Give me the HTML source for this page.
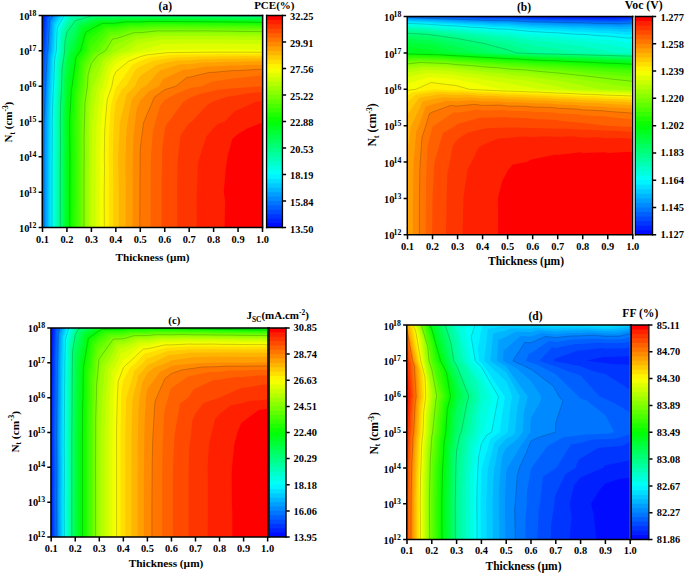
<!DOCTYPE html>
<html><head><meta charset="utf-8"><title>Contour plots</title>
<style>html,body{margin:0;padding:0;background:#fff}svg{display:block}
text{font-family:"Liberation Serif",serif;font-weight:bold;font-size:10.4px;fill:#000}</style></head>
<body><svg width="685" height="575" viewBox="0 0 685 575">
<rect width="685" height="575" fill="#fff"/>
<rect x="42.5" y="15.5" width="220.5" height="212.0" fill="#000bff"/>
<path d="M42.5 121.5L42.5 156.8L42.5 192.2L42.5 227.5L66.9 227.5L91.4 227.5L115.8 227.5L140.3 227.5L164.7 227.5L189.2 227.5L213.6 227.5L238.1 227.5L262.5 227.5L262.5 192.2L262.5 156.8L262.5 121.5L262.5 86.2L262.5 50.8L262.5 15.5L238.1 15.5L213.6 15.5L189.2 15.5L164.7 15.5L140.3 15.5L115.8 15.5L91.4 15.5L66.9 15.5L43.8 15.5L43.4 16L42.5 21.9L42.5 50.8L42.5 86.2Z" fill="#0020ff" fill-rule="evenodd"/>
<path d="M42.5 121.5L42.5 156.8L42.5 192.2L42.5 227.5L66.9 227.5L91.4 227.5L115.8 227.5L140.3 227.5L164.7 227.5L189.2 227.5L213.6 227.5L238.1 227.5L262.5 227.5L262.5 192.2L262.5 156.8L262.5 121.5L262.5 86.2L262.5 50.8L262.5 15.5L238.1 15.5L213.6 15.5L189.2 15.5L164.7 15.5L140.3 15.5L115.8 15.5L91.4 15.5L66.9 15.5L45.7 15.5L44.7 16.8L42.5 41.6L42.5 50.8L42.5 86.2Z" fill="#0035ff" fill-rule="evenodd"/>
<path d="M43.5 51.4L42.5 61.8L42.5 86.2L42.5 121.5L42.5 156.8L42.5 192.2L42.5 227.5L66.9 227.5L91.4 227.5L115.8 227.5L140.3 227.5L164.7 227.5L189.2 227.5L213.6 227.5L238.1 227.5L262.5 227.5L262.5 192.2L262.5 156.8L262.5 121.5L262.5 86.2L262.5 50.8L262.5 15.5L238.1 15.5L213.6 15.5L189.2 15.5L164.7 15.5L140.3 15.5L115.8 15.5L91.4 15.5L66.9 15.5L47.6 15.5L45.9 17.6L43.7 50.8Z" fill="#004aff" fill-rule="evenodd"/>
<path d="M44.8 52.2L43 86.2L43 86.4L42.5 91.4L42.5 121.5L42.5 156.8L42.5 192.2L42.5 227.5L66.9 227.5L91.4 227.5L115.8 227.5L140.3 227.5L164.7 227.5L189.2 227.5L213.6 227.5L238.1 227.5L262.5 227.5L262.5 192.2L262.5 156.8L262.5 121.5L262.5 86.2L262.5 50.8L262.5 15.5L238.1 15.5L213.6 15.5L189.2 15.5L164.7 15.5L140.3 15.5L115.8 15.5L91.4 15.5L66.9 15.5L49.4 15.5L47.2 18.4L45.1 50.8Z" fill="#0060ff" fill-rule="evenodd"/>
<path d="M46 52.9L44.3 86.2L44.2 87.2L42.8 121.5L42.8 121.7L42.5 146L42.5 156.8L42.5 192.2L42.5 214.5L42.5 227.5L66.9 227.5L91.4 227.5L115.8 227.5L140.3 227.5L164.7 227.5L189.2 227.5L213.6 227.5L238.1 227.5L262.5 227.5L262.5 192.2L262.5 156.8L262.5 121.5L262.5 86.2L262.5 50.8L262.5 15.5L238.1 15.5L213.6 15.5L189.2 15.5L164.7 15.5L140.3 15.5L115.8 15.5L91.4 15.5L66.9 15.5L51.3 15.5L48.5 19.3L46.5 50.8Z" fill="#0075ff" fill-rule="evenodd"/>
<path d="M47.2 53.8L45.6 86.2L45.5 88L44.1 121.5L44.1 122.5L43.8 156.8L43.8 157.6L43.8 192.2L43.8 192.9L43.9 227.5L66.9 227.5L91.4 227.5L115.8 227.5L140.3 227.5L164.7 227.5L189.2 227.5L213.6 227.5L238.1 227.5L262.5 227.5L262.5 192.2L262.5 156.8L262.5 121.5L262.5 86.2L262.5 50.8L262.5 15.5L238.1 15.5L213.6 15.5L189.2 15.5L164.7 15.5L140.3 15.5L115.8 15.5L91.4 15.5L66.9 15.5L53.2 15.5L49.7 20.3L47.9 50.8Z" fill="#008aff" fill-rule="evenodd"/>
<path d="M48.4 54.6L47 86.2L46.8 88.8L45.5 121.5L45.5 123.3L45.2 156.8L45.2 158.4L45.2 192.2L45.2 193.8L45.2 227.5L66.9 227.5L91.4 227.5L115.8 227.5L140.3 227.5L164.7 227.5L189.2 227.5L213.6 227.5L238.1 227.5L262.5 227.5L262.5 192.2L262.5 156.8L262.5 121.5L262.5 86.2L262.5 50.8L262.5 15.5L238.1 15.5L213.6 15.5L189.2 15.5L164.7 15.5L140.3 15.5L115.8 15.5L91.4 15.5L66.9 15.5L55 15.5L51 21.3L49.3 50.8Z" fill="#009fff" fill-rule="evenodd"/>
<path d="M49.7 55.5L48.3 86.2L48 89.7L46.8 121.5L46.9 124.2L46.6 156.8L46.6 159.3L46.6 192.2L46.5 194.6L46.6 227.5L66.9 227.5L91.4 227.5L115.8 227.5L140.3 227.5L164.7 227.5L189.2 227.5L213.6 227.5L238.1 227.5L262.5 227.5L262.5 192.2L262.5 156.8L262.5 121.5L262.5 86.2L262.5 50.8L262.5 15.5L238.1 15.5L213.6 15.5L189.2 15.5L164.7 15.5L140.3 15.5L115.8 15.5L91.4 15.5L66.9 15.5L56.9 15.5L52.3 22.3L50.7 50.8Z" fill="#00b5ff" fill-rule="evenodd"/>
<path d="M50.9 56.5L49.6 86.2L49.3 90.6L48.2 121.5L48.2 125.1L48 156.8L48 160.3L47.9 192.2L47.9 195.6L48 227.5L66.9 227.5L91.4 227.5L115.8 227.5L140.3 227.5L164.7 227.5L189.2 227.5L213.6 227.5L238.1 227.5L262.5 227.5L262.5 192.2L262.5 156.8L262.5 121.5L262.5 86.2L262.5 50.8L262.5 15.5L238.1 15.5L213.6 15.5L189.2 15.5L164.7 15.5L140.3 15.5L115.8 15.5L91.4 15.5L66.9 15.5L58.8 15.5L53.5 23.5L52.1 50.8Z" fill="#00caff" fill-rule="evenodd"/>
<path d="M52.1 57.5L51 86.2L50.6 91.6L49.5 121.5L49.6 126.1L49.4 156.8L49.3 161.3L49.3 192.2L49.3 196.6L49.4 227.5L66.9 227.5L91.4 227.5L115.8 227.5L140.3 227.5L164.7 227.5L189.2 227.5L213.6 227.5L238.1 227.5L262.5 227.5L262.5 192.2L262.5 156.8L262.5 121.5L262.5 86.2L262.5 50.8L262.5 15.5L238.1 15.5L213.6 15.5L189.2 15.5L164.7 15.5L140.3 15.5L115.8 15.5L91.4 15.5L66.9 15.5L60.6 15.5L54.8 24.8L53.5 50.8Z" fill="#00dfff" fill-rule="evenodd"/>
<path d="M53.4 58.7L52.3 86.2L51.8 92.6L50.9 121.5L51 127.2L50.7 156.8L50.7 162.4L50.7 192.2L50.7 197.7L50.7 227.5L66.9 227.5L91.4 227.5L115.8 227.5L140.3 227.5L164.7 227.5L189.2 227.5L213.6 227.5L238.1 227.5L262.5 227.5L262.5 192.2L262.5 156.8L262.5 121.5L262.5 86.2L262.5 50.8L262.5 15.5L238.1 15.5L213.6 15.5L189.2 15.5L164.7 15.5L140.3 15.5L115.8 15.5L91.4 15.5L66.9 15.5L62.5 15.5L56.1 26.1L54.9 50.8Z" fill="#00f4ff" fill-rule="evenodd"/>
<path d="M54.6 59.9L53.6 86.2L53.1 93.8L52.2 121.5L52.3 128.4L52.1 156.8L52.1 163.5L52.1 192.2L52 198.8L52.1 227.5L66.9 227.5L91.4 227.5L115.8 227.5L140.3 227.5L164.7 227.5L189.2 227.5L213.6 227.5L238.1 227.5L262.5 227.5L262.5 192.2L262.5 156.8L262.5 121.5L262.5 86.2L262.5 50.8L262.5 15.5L238.1 15.5L213.6 15.5L189.2 15.5L164.7 15.5L140.3 15.5L115.8 15.5L91.4 15.5L66.9 15.5L64.4 15.5L57.3 27.6L56.3 50.8Z" fill="#00fff4" fill-rule="evenodd"/>
<path d="M55.8 61.2L54.9 86.2L54.4 95L53.5 121.5L53.7 129.6L53.5 156.8L53.5 164.8L53.4 192.2L53.4 200.1L53.5 227.5L66.9 227.5L91.4 227.5L115.8 227.5L140.3 227.5L164.7 227.5L189.2 227.5L213.6 227.5L238.1 227.5L262.5 227.5L262.5 192.2L262.5 156.8L262.5 121.5L262.5 86.2L262.5 50.8L262.5 15.5L238.1 15.5L213.6 15.5L189.2 15.5L164.7 15.5L140.3 15.5L115.8 15.5L91.4 15.5L66.9 15.5L66.2 15.5L58.6 29.3L57.7 50.8Z" fill="#00ffdf" fill-rule="evenodd"/>
<path d="M59.1 50.8L57 62.6L56.3 86.2L55.6 96.3L54.9 121.5L55 131L54.9 156.8L54.8 166.1L54.8 192.2L54.8 201.4L54.8 227.5L66.9 227.5L91.4 227.5L115.8 227.5L140.3 227.5L164.7 227.5L189.2 227.5L213.6 227.5L238.1 227.5L262.5 227.5L262.5 192.2L262.5 156.8L262.5 121.5L262.5 86.2L262.5 50.8L262.5 15.5L238.1 15.5L213.6 15.5L189.2 15.5L164.7 15.5L140.3 15.5L115.8 15.5L91.4 15.5L70.5 15.5L68 16.1L66.9 16.9L59.9 31.1Z" fill="#00ffca" fill-rule="evenodd"/>
<path d="M60.5 50.8L58.3 64.2L57.6 86.2L56.9 97.8L56.2 121.5L56.4 132.5L56.3 156.8L56.2 167.6L56.2 192.2L56.1 202.9L56.2 227.5L66.9 227.5L91.4 227.5L115.8 227.5L140.3 227.5L164.7 227.5L189.2 227.5L213.6 227.5L238.1 227.5L262.5 227.5L262.5 192.2L262.5 156.8L262.5 121.5L262.5 86.2L262.5 50.8L262.5 15.5L238.1 15.5L213.6 15.5L189.2 15.5L164.7 15.5L140.3 15.5L115.8 15.5L91.4 15.5L76.2 15.5L69.8 17.2L66.9 19.6L61.1 33.3Z" fill="#00ffb5" fill-rule="evenodd"/>
<path d="M61.9 50.8L59.5 65.9L58.9 86.2L58.2 99.3L57.6 121.5L57.8 134.2L57.6 156.8L57.6 169.3L57.6 192.2L57.5 204.5L57.6 227.5L66.9 227.5L91.4 227.5L115.8 227.5L140.3 227.5L164.7 227.5L189.2 227.5L213.6 227.5L238.1 227.5L262.5 227.5L262.5 192.2L262.5 156.8L262.5 121.5L262.5 86.2L262.5 50.8L262.5 15.5L238.1 15.5L213.6 15.5L189.2 15.5L164.7 15.5L140.3 15.5L115.8 15.5L91.4 15.5L82 15.5L71.5 18.3L66.9 22.8L62.4 35.7Z" fill="#00ff9f" fill-rule="evenodd"/>
<path d="M66.9 26.9L63.7 38.7L63.3 50.8L60.7 67.9L60.2 86.2L59.4 101.1L58.9 121.5L59.1 136L59 156.8L59 171.1L59 192.2L58.9 206.4L58.9 227.5L66.9 227.5L91.4 227.5L115.8 227.5L140.3 227.5L164.7 227.5L189.2 227.5L213.6 227.5L238.1 227.5L262.5 227.5L262.5 192.2L262.5 156.8L262.5 121.5L262.5 86.2L262.5 50.8L262.5 15.8L238.2 15.6L238.1 15.6L231.1 15.5L213.6 15.5L189.2 15.5L164.7 15.5L140.3 15.5L115.8 15.5L91.4 15.5L87.7 15.5L73.2 19.5Z" fill="#00ff8a" fill-rule="evenodd"/>
<path d="M62 70.2L61.6 86.2L60.7 103.2L60.3 121.5L60.5 138.2L60.4 156.8L60.3 173.2L60.3 192.2L60.3 208.5L60.3 227.5L66.9 227.5L91.4 227.5L115.8 227.5L140.3 227.5L164.7 227.5L189.2 227.5L213.6 227.5L238.1 227.5L262.5 227.5L262.5 192.2L262.5 156.8L262.5 121.5L262.5 86.2L262.5 50.8L262.5 16.6L239.5 16.4L238.1 16.4L214.7 16.1L213.6 16.1L189.8 15.9L189.2 15.9L165.1 15.7L164.7 15.7L140.5 15.6L140.3 15.6L116.1 15.7L115.8 15.7L92 15.8L91.4 16L75 20.9L66.9 32.5L64.9 42.3L64.7 50.8Z" fill="#00ff75" fill-rule="evenodd"/>
<path d="M63.2 72.9L62.9 86.2L62 105.5L61.6 121.5L61.9 140.6L61.8 156.8L61.7 175.7L61.7 192.2L61.6 210.9L61.7 227.5L66.9 227.5L91.4 227.5L115.8 227.5L140.3 227.5L164.7 227.5L189.2 227.5L213.6 227.5L238.1 227.5L262.5 227.5L262.5 192.2L262.5 156.8L262.5 121.5L262.5 86.2L262.5 50.8L262.5 17.4L240.9 17.2L238.1 17.2L216 16.9L213.6 16.9L191.2 16.7L189.2 16.7L166.5 16.5L164.7 16.5L141.9 16.4L140.3 16.5L117.6 16.5L115.8 16.7L93.7 16.9L91.4 17.5L76.7 22.3L66.9 41.3L66.2 47.1L66.1 50.8Z" fill="#00ff60" fill-rule="evenodd"/>
<path d="M67.8 51.3L66.9 53.3L64.4 76.1L64.2 86.2L63.2 108.2L63 121.5L63.2 143.6L63.2 156.8L63.1 178.6L63.1 192.2L63 213.8L63 227.5L66.9 227.5L91.4 227.5L115.8 227.5L140.3 227.5L164.7 227.5L189.2 227.5L213.6 227.5L238.1 227.5L262.5 227.5L262.5 192.2L262.5 156.8L262.5 121.5L262.5 86.2L262.5 50.8L262.5 18.3L242.2 18.1L238.1 18L217.4 17.8L213.6 17.8L192.6 17.6L189.2 17.6L167.9 17.4L164.7 17.4L143.3 17.3L140.3 17.4L119.1 17.5L115.8 17.8L95.5 18L91.4 19.2L78.4 23.9L68.2 50.8Z" fill="#00ff4a" fill-rule="evenodd"/>
<path d="M69.8 52.5L66.9 62L65.7 80.2L65.6 86.2L64.5 111.6L64.3 121.5L64.6 147.2L64.5 156.8L64.5 182.2L64.5 192.2L64.4 217.3L64.4 227.5L66.9 227.5L91.4 227.5L115.8 227.5L140.3 227.5L164.7 227.5L189.2 227.5L213.6 227.5L238.1 227.5L262.5 227.5L262.5 192.2L262.5 156.8L262.5 121.5L262.5 86.2L262.5 50.8L262.5 19.2L243.6 19L238.1 18.9L218.8 18.7L213.6 18.7L194 18.5L189.2 18.5L169.3 18.3L164.7 18.3L144.7 18.2L140.3 18.4L120.6 18.5L115.8 19L97.2 19.2L91.4 21.1L80.2 25.7L71.3 50.8Z" fill="#00ff35" fill-rule="evenodd"/>
<path d="M71.9 53.9L66.9 84.1L66.9 85.9L66.9 86.2L65.8 115.9L65.7 121.5L65.9 152L65.9 156.8L65.8 186.9L65.8 192.2L65.8 221.9L65.8 227.5L66.9 227.5L91.4 227.5L115.8 227.5L140.3 227.5L164.7 227.5L189.2 227.5L213.6 227.5L238.1 227.5L262.5 227.5L262.5 192.2L262.5 156.8L262.5 121.5L262.5 86.2L262.5 50.8L262.5 20.2L244.9 20L238.1 19.9L220.1 19.7L213.6 19.7L195.4 19.5L189.2 19.5L170.7 19.3L164.7 19.3L146.1 19.2L140.3 19.5L122.1 19.5L115.8 20.3L98.9 20.5L91.4 23.3L81.9 27.8L74.4 50.8Z" fill="#00ff20" fill-rule="evenodd"/>
<path d="M73.9 55.4L69.4 86.2L69.1 87.5L67.1 121.5L67.1 121.6L67.6 156.8L67.6 157.2L67.4 192.2L67.4 192.4L67.3 227.5L91.4 227.5L115.8 227.5L140.3 227.5L164.7 227.5L189.2 227.5L213.6 227.5L238.1 227.5L262.5 227.5L262.5 192.2L262.5 156.8L262.5 121.5L262.5 86.2L262.5 50.8L262.5 21.2L246.2 21L238.1 21L221.5 20.8L213.6 20.7L196.8 20.5L189.2 20.5L172.1 20.4L164.7 20.4L147.6 20.3L140.3 20.6L123.6 20.7L115.8 21.7L100.6 21.9L91.4 25.9L83.6 30.1L77.5 50.8Z" fill="#00ff0b" fill-rule="evenodd"/>
<path d="M76 57L72 86.2L71.4 88.9L69.6 121.5L69.5 123L70 156.8L69.9 158.6L69.8 192.2L69.8 193.9L69.7 227.5L91.4 227.5L115.8 227.5L140.3 227.5L164.7 227.5L189.2 227.5L213.6 227.5L238.1 227.5L262.5 227.5L262.5 192.2L262.5 156.8L262.5 121.5L262.5 86.2L262.5 50.8L262.5 22.4L247.6 22.1L238.1 22.1L222.8 21.9L213.6 21.9L198.1 21.6L189.2 21.7L173.5 21.5L164.7 21.5L149 21.4L140.3 21.9L125.1 21.9L115.8 23.2L102.3 23.4L91.4 28.9L85.4 32.9L80.6 50.8Z" fill="#0bff00" fill-rule="evenodd"/>
<path d="M78 58.9L74.5 86.2L73.7 90.5L72 121.5L72 124.6L72.3 156.8L72.3 160.2L72.1 192.2L72.2 195.4L72 227.5L91.4 227.5L115.8 227.5L140.3 227.5L164.7 227.5L189.2 227.5L213.6 227.5L238.1 227.5L262.5 227.5L262.5 192.2L262.5 156.8L262.5 121.5L262.5 86.2L262.5 50.8L262.5 23.6L248.9 23.4L238.1 23.3L224.2 23.1L213.6 23.1L199.5 22.9L189.2 22.9L174.9 22.7L164.7 22.8L150.4 22.6L140.3 23.2L126.6 23.3L115.8 25L104 25.1L91.4 32.7L87.1 36.3L83.7 50.8Z" fill="#20ff00" fill-rule="evenodd"/>
<path d="M80 60.9L77.1 86.2L76 92.3L74.5 121.5L74.4 126.4L74.7 156.8L74.6 161.9L74.5 192.2L74.5 197.2L74.4 227.5L91.4 227.5L115.8 227.5L140.3 227.5L164.7 227.5L189.2 227.5L213.6 227.5L238.1 227.5L262.5 227.5L262.5 192.2L262.5 156.8L262.5 121.5L262.5 86.2L262.5 50.8L262.5 24.9L250.3 24.7L238.1 24.6L225.6 24.4L213.6 24.4L200.9 24.2L189.2 24.2L176.3 24L164.7 24.1L151.8 24L140.3 24.7L128.1 24.8L115.8 26.9L105.8 27.1L91.4 37.8L88.8 40.7L86.8 50.8Z" fill="#35ff00" fill-rule="evenodd"/>
<path d="M82.1 63.3L79.7 86.2L78.2 94.4L77 121.5L76.8 128.4L77.1 156.8L77 163.9L76.9 192.2L76.9 199.2L76.8 227.5L91.4 227.5L115.8 227.5L140.3 227.5L164.7 227.5L189.2 227.5L213.6 227.5L238.1 227.5L262.5 227.5L262.5 192.2L262.5 156.8L262.5 121.5L262.5 86.2L262.5 50.8L262.5 26.3L251.6 26.1L238.1 26.1L226.9 25.8L213.6 25.8L202.3 25.6L189.2 25.6L177.7 25.5L164.7 25.5L153.2 25.4L140.3 26.4L129.6 26.4L115.8 29.1L107.5 29.3L91.4 45.4L90.6 46.8L89.9 50.8Z" fill="#4aff00" fill-rule="evenodd"/>
<path d="M84.1 66.2L82.3 86.2L80.5 96.8L79.5 121.5L79.2 130.8L79.5 156.8L79.3 166.2L79.2 192.2L79.3 201.5L79.2 227.5L91.4 227.5L115.8 227.5L140.3 227.5L164.7 227.5L189.2 227.5L213.6 227.5L238.1 227.5L262.5 227.5L262.5 192.2L262.5 156.8L262.5 121.5L262.5 86.2L262.5 50.8L262.5 27.9L253 27.7L238.1 27.6L228.3 27.4L213.6 27.4L203.7 27.2L189.2 27.2L179.1 27.1L164.7 27.2L154.7 27.1L140.3 28.2L131.1 28.2L115.8 31.8L109.2 31.9L94.4 50.8L92.8 51.6L91.4 52.8Z" fill="#60ff00" fill-rule="evenodd"/>
<path d="M86.2 69.7L84.8 86.2L82.8 99.6L82 121.5L81.7 133.5L81.9 156.8L81.7 168.8L81.6 192.2L81.7 204.1L81.6 227.5L91.4 227.5L115.8 227.5L140.3 227.5L164.7 227.5L189.2 227.5L213.6 227.5L238.1 227.5L262.5 227.5L262.5 192.2L262.5 156.8L262.5 121.5L262.5 86.2L262.5 50.8L262.5 29.7L254.3 29.5L238.1 29.4L229.7 29.2L213.6 29.1L205 29L189.2 29L180.5 28.9L164.7 29L156.1 28.9L140.3 30.3L132.6 30.3L115.8 34.9L110.9 35L100 50.8L95.4 53.3L91.4 57.2Z" fill="#75ff00" fill-rule="evenodd"/>
<path d="M88.2 74.3L87.4 86.2L85 103L84.5 121.5L84.1 136.8L84.2 156.8L84 172.1L84 192.2L84 207.4L84 227.5L91.4 227.5L115.8 227.5L140.3 227.5L164.7 227.5L189.2 227.5L213.6 227.5L238.1 227.5L262.5 227.5L262.5 192.2L262.5 156.8L262.5 121.5L262.5 86.2L262.5 50.8L262.5 31.7L255.7 31.5L238.1 31.4L231 31.2L213.6 31.1L206.4 30.9L189.2 31L181.9 30.9L164.7 31L157.5 30.9L140.3 32.7L134.1 32.7L115.8 38.8L112.7 38.9L105.5 50.8L98 55.1L91.4 63.4Z" fill="#8aff00" fill-rule="evenodd"/>
<path d="M90.3 80.8L90 86.2L87.3 107.5L87 121.5L86.5 141.1L86.6 156.8L86.4 176.1L86.3 192.2L86.4 211.5L86.4 227.5L91.4 227.5L115.8 227.5L140.3 227.5L164.7 227.5L189.2 227.5L213.6 227.5L238.1 227.5L262.5 227.5L262.5 192.2L262.5 156.8L262.5 121.5L262.5 86.2L262.5 50.8L262.5 34L257 33.9L238.1 33.7L232.4 33.5L213.6 33.4L207.8 33.2L189.2 33.4L183.3 33.2L164.7 33.4L158.9 33.3L140.3 35.5L135.7 35.6L115.8 44.2L114.4 44.2L111.1 50.8L100.6 57.2L91.4 73.9Z" fill="#9fff00" fill-rule="evenodd"/>
<path d="M103.2 59.6L93.4 86.2L93 87.1L91.4 92.2L89.6 113.7L89.4 121.5L89 147.1L89 156.8L88.7 181.7L88.7 192.2L88.8 217.2L88.8 227.5L91.4 227.5L115.8 227.5L140.3 227.5L164.7 227.5L189.2 227.5L213.6 227.5L238.1 227.5L262.5 227.5L262.5 192.2L262.5 156.8L262.5 121.5L262.5 86.2L262.5 50.8L262.5 36.8L258.4 36.6L238.1 36.4L233.7 36.2L213.6 36.1L209.2 36L189.2 36.1L184.7 36L164.7 36.1L160.3 36.1L140.3 39L137.2 39.1L117.5 50.8L116.3 51.1L115.8 51.2Z" fill="#b5ff00" fill-rule="evenodd"/>
<path d="M105.8 62.4L98 86.2L96.5 89.4L92.3 121.5L92.3 122L91.4 156.8L91.4 156.8L91.4 157.6L91.1 190.6L91.1 192.2L91.2 226.3L91.2 227.5L91.4 227.5L115.8 227.5L140.3 227.5L164.7 227.5L189.2 227.5L213.6 227.5L238.1 227.5L262.5 227.5L262.5 192.2L262.5 156.8L262.5 121.5L262.5 86.2L262.5 50.8L262.5 40.1L259.7 40L238.1 39.7L235.1 39.5L213.6 39.4L210.6 39.2L189.2 39.4L186.1 39.3L164.7 39.5L161.8 39.5L140.3 43.6L138.7 43.6L128.4 50.8L119.5 53L115.8 54.4Z" fill="#caff00" fill-rule="evenodd"/>
<path d="M108.4 65.9L102.6 86.2L100.1 92.1L96.7 121.5L96.4 124.6L95.7 156.8L95.8 159.5L95.3 192.2L95.3 194.6L95.4 227.5L115.8 227.5L140.3 227.5L164.7 227.5L189.2 227.5L213.6 227.5L238.1 227.5L262.5 227.5L262.5 192.2L262.5 156.8L262.5 121.5L262.5 86.2L262.5 50.8L262.5 44.4L261.1 44.3L238.1 43.9L236.5 43.8L213.6 43.5L211.9 43.4L189.2 43.6L187.5 43.6L164.7 43.9L163.2 43.9L140.3 50.2L140.2 50.2L139.4 50.8L122.6 55.2L115.8 58.3Z" fill="#dfff00" fill-rule="evenodd"/>
<path d="M103.7 95.4L101 121.5L100.6 127.8L100 156.8L100.2 162.8L99.8 192.2L99.8 197.8L99.9 227.5L115.8 227.5L140.3 227.5L164.7 227.5L189.2 227.5L213.6 227.5L238.1 227.5L262.5 227.5L262.5 192.2L262.5 156.8L262.5 121.5L262.5 86.2L262.5 50.8L262.5 50.2L262.4 50.2L238.1 49.6L237.8 49.6L213.6 49.2L213.3 49.2L189.2 49.5L188.9 49.5L164.7 50.1L164.6 50.1L162.4 50.8L143.3 52.7L140.3 53.3L125.8 57.8L115.8 63.6L111 70.4L107.2 86.2Z" fill="#f4ff00" fill-rule="evenodd"/>
<path d="M113.6 76.9L111.8 86.2L107.2 99.6L105.3 121.5L104.7 131.8L104.3 156.8L104.5 167L104.2 192.2L104.2 202L104.3 227.5L115.8 227.5L140.3 227.5L164.7 227.5L189.2 227.5L213.6 227.5L238.1 227.5L262.5 227.5L262.5 192.2L262.5 156.8L262.5 121.5L262.5 86.2L262.5 52.3L240.4 52.2L238.1 52.2L215.9 52.2L213.6 52.2L191.7 52.3L189.2 52.4L167.7 52.6L164.7 52.9L146.6 54.9L140.3 56.6L128.9 61L115.8 71.8Z" fill="#fff400" fill-rule="evenodd"/>
<path d="M116.5 86.6L115.8 87.4L110.8 105.4L109.7 121.5L108.9 137.3L108.6 156.8L108.9 172.7L108.7 192.2L108.7 207.8L108.8 227.5L115.8 227.5L140.3 227.5L164.7 227.5L189.2 227.5L213.6 227.5L238.1 227.5L262.5 227.5L262.5 192.2L262.5 156.8L262.5 121.5L262.5 86.2L262.5 54.2L243.2 54L238.1 54.1L218.8 54.1L213.6 54.2L194.7 54.3L189.2 54.6L170.9 54.8L164.7 55.6L149.9 57.6L140.3 60.8L132.1 64.9L117 86.2Z" fill="#ffdf00" fill-rule="evenodd"/>
<path d="M121.6 89.8L115.8 102.6L114.3 114.8L114 121.5L113 145.9L112.9 156.8L113.3 181.9L113.2 192.2L113.2 217.1L113.2 227.5L115.8 227.5L140.3 227.5L164.7 227.5L189.2 227.5L213.6 227.5L238.1 227.5L262.5 227.5L262.5 192.2L262.5 156.8L262.5 121.5L262.5 86.2L262.5 56.2L245.9 56.1L238.1 56.3L221.7 56.2L213.6 56.5L197.6 56.6L189.2 57.2L174.1 57.4L164.7 59L153.3 60.8L140.3 66.5L135.3 70.1L126 86.2Z" fill="#ffca00" fill-rule="evenodd"/>
<path d="M135 86.2L126.7 94L120.2 121.5L119.8 123.9L118.2 156.8L118.1 158.2L118.7 192.2L118.7 193.9L118.7 227.5L140.3 227.5L164.7 227.5L189.2 227.5L213.6 227.5L238.1 227.5L262.5 227.5L262.5 192.2L262.5 156.8L262.5 121.5L262.5 86.2L262.5 58.6L248.7 58.5L238.1 58.8L224.6 58.7L213.6 59.2L200.6 59.3L189.2 60.3L177.4 60.4L164.7 63.1L156.6 64.9L140.3 75.9L138.4 78.2Z" fill="#ffb500" fill-rule="evenodd"/>
<path d="M145.7 86.2L142.7 87.6L140.3 89.2L131.8 99.7L127.7 121.5L126.5 129.2L125.5 156.8L125.4 163.5L125.8 192.2L125.7 199.1L125.7 227.5L140.3 227.5L164.7 227.5L189.2 227.5L213.6 227.5L238.1 227.5L262.5 227.5L262.5 192.2L262.5 156.8L262.5 121.5L262.5 86.2L262.5 61.4L251.5 61.3L238.1 61.8L227.4 61.8L213.6 62.4L203.6 62.5L189.2 64.2L180.6 64.3L164.7 69L159.9 70.5Z" fill="#ff9f00" fill-rule="evenodd"/>
<path d="M158.7 86.2L148.5 91.7L140.3 100.6L136.8 108.9L135.2 121.5L133.3 137.3L132.8 156.8L132.6 171.6L132.8 192.2L132.8 207.1L132.8 227.5L140.3 227.5L164.7 227.5L189.2 227.5L213.6 227.5L238.1 227.5L262.5 227.5L262.5 192.2L262.5 156.8L262.5 121.5L262.5 86.2L262.5 64.9L254.3 64.8L238.1 65.6L230.3 65.5L213.6 66.6L206.6 66.6L189.2 69.4L183.8 69.5L164.7 78.5L163.2 79.3Z" fill="#ff8a00" fill-rule="evenodd"/>
<path d="M144 121.5L143.4 123.3L140.3 148.1L140.1 155.7L140.1 156.8L139.9 190.1L139.9 192.2L139.8 224.9L139.8 227.5L140.3 227.5L164.7 227.5L189.2 227.5L213.6 227.5L238.1 227.5L262.5 227.5L262.5 192.2L262.5 156.8L262.5 121.5L262.5 86.2L262.5 69.4L257.1 69.3L238.1 70.6L233.2 70.5L213.6 72.3L209.6 72.3L189.2 77.3L187.1 77.4L175.8 86.2L168.5 88.5L164.7 89.7L154.3 97.3Z" fill="#ff7500" fill-rule="evenodd"/>
<path d="M155.5 121.5L152.9 131.1L151 156.8L150.8 164.4L150.7 192.2L150.7 199.6L150.6 227.5L164.7 227.5L189.2 227.5L213.6 227.5L238.1 227.5L262.5 227.5L262.5 192.2L262.5 156.8L262.5 121.5L262.5 86.2L262.5 75.7L259.8 75.7L238.1 78L236.1 77.9L213.6 81.4L212.6 81.4L201.8 86.2L192 87.8L189.2 88.5L175.6 94L164.7 99.9L160.1 106.2Z" fill="#ff6000" fill-rule="evenodd"/>
<path d="M169 121.5L167.3 123L164.7 129.5L162.4 147.5L162.1 156.8L161.7 180.7L161.7 192.2L161.7 216L161.7 227.5L164.7 227.5L189.2 227.5L213.6 227.5L238.1 227.5L262.5 227.5L262.5 192.2L262.5 156.8L262.5 121.5L262.5 86.4L240.6 87.7L238.1 88L219.1 89.6L213.6 90.7L200 93.9L189.2 98L182.7 102.8Z" fill="#ff4a00" fill-rule="evenodd"/>
<path d="M190.5 122.3L189.2 123.2L180.7 135.1L178 156.8L177.4 166.5L177.1 192.2L177.2 201.6L177.3 227.5L189.2 227.5L213.6 227.5L238.1 227.5L262.5 227.5L262.5 192.2L262.5 156.8L262.5 121.5L262.5 92L248 93.2L238.1 95.3L227.2 96.8L213.6 101.5L207.9 104.2L191.8 121.5Z" fill="#ff3500" fill-rule="evenodd"/>
<path d="M206.2 136.7L199.8 156.8L198 162.9L196.9 192.2L196.6 197L196.8 227.5L213.6 227.5L238.1 227.5L262.5 227.5L262.5 192.2L262.5 156.8L262.5 121.5L262.5 100.9L255.5 102L238.1 109.8L235.3 110.8L224.8 121.5L217.8 124L213.6 127.9Z" fill="#ff2000" fill-rule="evenodd"/>
<path d="M227.5 156.8L226 166.2L223.7 192.2L225.2 200.7L224.5 227.5L238.1 227.5L262.5 227.5L262.5 192.2L262.5 156.8L262.5 122.4L247.8 128.3L238.1 134.1L232.2 139.2Z" fill="#ff0000" fill-rule="evenodd"/>
<path d="M43.9 227.5L43.8 192.9L43.8 192.2L43.8 157.6L43.8 156.8L44.1 122.5L44.1 121.5L45.5 88L45.6 86.2L47.2 53.8L47.9 50.8L49.7 20.3L53.2 15.5M52.1 227.5L52 198.8L52.1 192.2L52.1 163.5L52.1 156.8L52.3 128.4L52.2 121.5L53.1 93.8L53.6 86.2L54.6 59.9L56.3 50.8L57.3 27.6L64.4 15.5M262.5 16.6L239.5 16.4L238.1 16.4L214.7 16.1L213.6 16.1L189.8 15.9L189.2 15.9L165.1 15.7L164.7 15.7L140.5 15.6L140.3 15.6L116.1 15.7L115.8 15.7L92 15.8L91.4 16L75 20.9L66.9 32.5L64.9 42.3L64.7 50.8L62 70.2L61.6 86.2L60.7 103.2L60.3 121.5L60.5 138.2L60.4 156.8L60.3 173.2L60.3 192.2L60.3 208.5L60.3 227.5M262.5 22.4L247.6 22.1L238.1 22.1L222.8 21.9L213.6 21.9L198.1 21.6L189.2 21.7L173.5 21.5L164.7 21.5L149 21.4L140.3 21.9L125.1 21.9L115.8 23.2L102.3 23.4L91.4 28.9L85.4 32.9L80.6 50.8L76 57L72 86.2L71.4 88.9L69.6 121.5L69.5 123L70 156.8L69.9 158.6L69.8 192.2L69.8 193.9L69.7 227.5M262.5 31.7L255.7 31.5L238.1 31.4L231 31.2L213.6 31.1L206.4 30.9L189.2 31L181.9 30.9L164.7 31L157.5 30.9L140.3 32.7L134.1 32.7L115.8 38.8L112.7 38.9L105.5 50.8L98 55.1L91.4 63.4L88.2 74.3L87.4 86.2L85 103L84.5 121.5L84.1 136.8L84.2 156.8L84 172.1L84 192.2L84 207.4L84 227.5M262.5 52.3L240.4 52.2L238.1 52.2L215.9 52.2L213.6 52.2L191.7 52.3L189.2 52.4L167.7 52.6L164.7 52.9L146.6 54.9L140.3 56.6L128.9 61L115.8 71.8L113.6 76.9L111.8 86.2L107.2 99.6L105.3 121.5L104.7 131.8L104.3 156.8L104.5 167L104.2 192.2L104.2 202L104.3 227.5M262.5 69.4L257.1 69.3L238.1 70.6L233.2 70.5L213.6 72.3L209.6 72.3L189.2 77.3L187.1 77.4L175.8 86.2L168.5 88.5L164.7 89.7L154.3 97.3L144 121.5L143.4 123.3L140.3 148.1L140.1 155.7L140.1 156.8L139.9 190.1L139.9 192.2L139.8 224.9L139.8 227.5" fill="none" stroke-linejoin="round" stroke="#000" stroke-opacity="0.38" stroke-width="0.5"/>
<rect x="266.5" y="15.50" width="16.0" height="212.00" fill="#ff0000"/>
<rect x="266.5" y="19.92" width="16.0" height="207.58" fill="#ff2000"/>
<rect x="266.5" y="24.33" width="16.0" height="203.17" fill="#ff3500"/>
<rect x="266.5" y="28.75" width="16.0" height="198.75" fill="#ff4a00"/>
<rect x="266.5" y="33.17" width="16.0" height="194.33" fill="#ff6000"/>
<rect x="266.5" y="37.58" width="16.0" height="189.92" fill="#ff7500"/>
<rect x="266.5" y="42.00" width="16.0" height="185.50" fill="#ff8a00"/>
<rect x="266.5" y="46.42" width="16.0" height="181.08" fill="#ff9f00"/>
<rect x="266.5" y="50.83" width="16.0" height="176.67" fill="#ffb500"/>
<rect x="266.5" y="55.25" width="16.0" height="172.25" fill="#ffca00"/>
<rect x="266.5" y="59.67" width="16.0" height="167.83" fill="#ffdf00"/>
<rect x="266.5" y="64.08" width="16.0" height="163.42" fill="#fff400"/>
<rect x="266.5" y="68.50" width="16.0" height="159.00" fill="#f4ff00"/>
<rect x="266.5" y="72.92" width="16.0" height="154.58" fill="#dfff00"/>
<rect x="266.5" y="77.33" width="16.0" height="150.17" fill="#caff00"/>
<rect x="266.5" y="81.75" width="16.0" height="145.75" fill="#b5ff00"/>
<rect x="266.5" y="86.17" width="16.0" height="141.33" fill="#9fff00"/>
<rect x="266.5" y="90.58" width="16.0" height="136.92" fill="#8aff00"/>
<rect x="266.5" y="95.00" width="16.0" height="132.50" fill="#75ff00"/>
<rect x="266.5" y="99.42" width="16.0" height="128.08" fill="#60ff00"/>
<rect x="266.5" y="103.83" width="16.0" height="123.67" fill="#4aff00"/>
<rect x="266.5" y="108.25" width="16.0" height="119.25" fill="#35ff00"/>
<rect x="266.5" y="112.67" width="16.0" height="114.83" fill="#20ff00"/>
<rect x="266.5" y="117.08" width="16.0" height="110.42" fill="#0bff00"/>
<rect x="266.5" y="121.50" width="16.0" height="106.00" fill="#00ff0b"/>
<rect x="266.5" y="125.92" width="16.0" height="101.58" fill="#00ff20"/>
<rect x="266.5" y="130.33" width="16.0" height="97.17" fill="#00ff35"/>
<rect x="266.5" y="134.75" width="16.0" height="92.75" fill="#00ff4a"/>
<rect x="266.5" y="139.17" width="16.0" height="88.33" fill="#00ff60"/>
<rect x="266.5" y="143.58" width="16.0" height="83.92" fill="#00ff75"/>
<rect x="266.5" y="148.00" width="16.0" height="79.50" fill="#00ff8a"/>
<rect x="266.5" y="152.42" width="16.0" height="75.08" fill="#00ff9f"/>
<rect x="266.5" y="156.83" width="16.0" height="70.67" fill="#00ffb5"/>
<rect x="266.5" y="161.25" width="16.0" height="66.25" fill="#00ffca"/>
<rect x="266.5" y="165.67" width="16.0" height="61.83" fill="#00ffdf"/>
<rect x="266.5" y="170.08" width="16.0" height="57.42" fill="#00fff4"/>
<rect x="266.5" y="174.50" width="16.0" height="53.00" fill="#00f4ff"/>
<rect x="266.5" y="178.92" width="16.0" height="48.58" fill="#00dfff"/>
<rect x="266.5" y="183.33" width="16.0" height="44.17" fill="#00caff"/>
<rect x="266.5" y="187.75" width="16.0" height="39.75" fill="#00b5ff"/>
<rect x="266.5" y="192.17" width="16.0" height="35.33" fill="#009fff"/>
<rect x="266.5" y="196.58" width="16.0" height="30.92" fill="#008aff"/>
<rect x="266.5" y="201.00" width="16.0" height="26.50" fill="#0075ff"/>
<rect x="266.5" y="205.42" width="16.0" height="22.08" fill="#0060ff"/>
<rect x="266.5" y="209.83" width="16.0" height="17.67" fill="#004aff"/>
<rect x="266.5" y="214.25" width="16.0" height="13.25" fill="#0035ff"/>
<rect x="266.5" y="218.67" width="16.0" height="8.83" fill="#0020ff"/>
<rect x="266.5" y="223.08" width="16.0" height="4.42" fill="#000bff"/>
<rect x="261.90" y="14.75" width="1.50" height="213.50" fill="#000"/>
<rect x="265.90" y="14.75" width="1.30" height="213.50" fill="#000"/>
<rect x="281.80" y="14.75" width="1.30" height="213.50" fill="#000"/>
<path d="M41.50 15.50H263.20M41.50 227.50H263.20M265.90 15.50H283.10M265.90 227.50H283.10M42.25 14.75V228.25M42.50 228.0v4M66.94 228.0v4M91.39 228.0v4M115.83 228.0v4M140.28 228.0v4M164.72 228.0v4M189.17 228.0v4M213.61 228.0v4M238.06 228.0v4M262.50 228.0v4M42.0 15.50h-3.4M42.0 50.83h-3.4M42.0 86.17h-3.4M42.0 121.50h-3.4M42.0 156.83h-3.4M42.0 192.17h-3.4M42.0 227.50h-3.4M282.9 15.50h3.2M282.9 42.00h3.2M282.9 68.50h3.2M282.9 95.00h3.2M282.9 121.50h3.2M282.9 148.00h3.2M282.9 174.50h3.2M282.9 201.00h3.2M282.9 227.50h3.2" stroke="#000" stroke-width="1.5" fill="none"/>
<text x="42.5" y="243.2" text-anchor="middle">0.1</text>
<text x="66.9" y="243.2" text-anchor="middle">0.2</text>
<text x="91.4" y="243.2" text-anchor="middle">0.3</text>
<text x="115.8" y="243.2" text-anchor="middle">0.4</text>
<text x="140.3" y="243.2" text-anchor="middle">0.5</text>
<text x="164.7" y="243.2" text-anchor="middle">0.6</text>
<text x="189.2" y="243.2" text-anchor="middle">0.7</text>
<text x="213.6" y="243.2" text-anchor="middle">0.8</text>
<text x="238.1" y="243.2" text-anchor="middle">0.9</text>
<text x="262.5" y="243.2" text-anchor="middle">1.0</text>
<text x="36.4" y="20.1" text-anchor="end" style="font-size:10.4px">10<tspan dx="-0.9" dy="-4.0" font-size="7.8">18</tspan></text>
<text x="36.4" y="55.4" text-anchor="end" style="font-size:10.4px">10<tspan dx="-0.9" dy="-4.0" font-size="7.8">17</tspan></text>
<text x="36.4" y="90.8" text-anchor="end" style="font-size:10.4px">10<tspan dx="-0.9" dy="-4.0" font-size="7.8">16</tspan></text>
<text x="36.4" y="126.1" text-anchor="end" style="font-size:10.4px">10<tspan dx="-0.9" dy="-4.0" font-size="7.8">15</tspan></text>
<text x="36.4" y="161.4" text-anchor="end" style="font-size:10.4px">10<tspan dx="-0.9" dy="-4.0" font-size="7.8">14</tspan></text>
<text x="36.4" y="196.8" text-anchor="end" style="font-size:10.4px">10<tspan dx="-0.9" dy="-4.0" font-size="7.8">13</tspan></text>
<text x="36.4" y="232.1" text-anchor="end" style="font-size:10.4px">10<tspan dx="-0.9" dy="-4.0" font-size="7.8">12</tspan></text>
<text x="290.0" y="19.9">32.25</text>
<text x="290.0" y="46.5">29.91</text>
<text x="290.0" y="73.1">27.56</text>
<text x="290.0" y="99.7">25.22</text>
<text x="290.0" y="126.2">22.88</text>
<text x="290.0" y="152.8">20.53</text>
<text x="290.0" y="179.4">18.19</text>
<text x="290.0" y="206.0">15.84</text>
<text x="290.0" y="232.6">13.50</text>
<text x="165.3" y="9.6" text-anchor="middle" style="font-size:11.5px">(a)</text>
<text x="274.3" y="9.3" text-anchor="middle" style="font-size:11px">PCE(%)</text>
<text x="152.5" y="261.0" text-anchor="middle" style="font-size:11.2px">Thickness (µm)</text>
<text transform="translate(12.3,122.1) rotate(-90)" text-anchor="middle" style="font-size:11px">N<tspan dy="2.2" font-size="7.4">t</tspan><tspan dy="-2.2"> (cm</tspan><tspan dy="-4.2" font-size="7.4">-3</tspan><tspan dy="4.2">)</tspan></text>

<rect x="407.5" y="16.5" width="225.8" height="218.3" fill="#000bff"/>
<path d="M407.5 16.5L407.5 52.9L407.5 89.3L407.5 125.7L407.5 162L407.5 198.4L407.5 234.8L432.5 234.8L457.6 234.8L482.6 234.8L507.6 234.8L532.7 234.8L557.7 234.8L582.7 234.8L607.8 234.8L632.8 234.8L632.8 198.4L632.8 162L632.8 125.7L632.8 89.3L632.8 52.9L632.8 16.6L609.3 17.4L607.8 17.4L584.1 17.3L582.7 17.2L558.7 17.1L557.7 17L532.9 16.6L532.7 16.6L529.4 16.5L507.6 16.5L482.6 16.5L457.6 16.5L432.5 16.5Z" fill="#0020ff" fill-rule="evenodd"/>
<path d="M407.5 16.5L407.5 52.9L407.5 89.3L407.5 125.7L407.5 162L407.5 198.4L407.5 234.8L432.5 234.8L457.6 234.8L482.6 234.8L507.6 234.8L532.7 234.8L557.7 234.8L582.7 234.8L607.8 234.8L632.8 234.8L632.8 198.4L632.8 162L632.8 125.7L632.8 89.3L632.8 52.9L632.8 17.7L611.1 18.5L607.8 18.4L585.8 18.3L582.7 18.2L560.3 18.1L557.7 18L534.5 17.6L532.7 17.5L508 16.7L507.6 16.7L482.8 16.6L482.6 16.6L479.6 16.5L457.6 16.5L432.5 16.5Z" fill="#0035ff" fill-rule="evenodd"/>
<path d="M449.6 16.5L432.5 16.5L407.5 16.5L407.5 52.9L407.5 89.3L407.5 125.7L407.5 162L407.5 198.4L407.5 234.8L432.5 234.8L457.6 234.8L482.6 234.8L507.6 234.8L532.7 234.8L557.7 234.8L582.7 234.8L607.8 234.8L632.8 234.8L632.8 198.4L632.8 162L632.8 125.7L632.8 89.3L632.8 52.9L632.8 18.9L612.8 19.7L607.8 19.5L587.4 19.4L582.7 19.3L561.9 19.1L557.7 19L536 18.6L532.7 18.5L509.6 17.7L507.6 17.6L484.3 17.5L482.6 17.4L458 16.8L457.6 16.7Z" fill="#004aff" fill-rule="evenodd"/>
<path d="M407.5 162L407.5 198.4L407.5 234.8L432.5 234.8L457.6 234.8L482.6 234.8L507.6 234.8L532.7 234.8L557.7 234.8L582.7 234.8L607.8 234.8L632.8 234.8L632.8 198.4L632.8 162L632.8 125.7L632.8 89.3L632.8 52.9L632.8 20.1L614.6 20.9L607.8 20.7L589.1 20.6L582.7 20.4L563.5 20.2L557.7 20L537.6 19.6L532.7 19.5L511.2 18.7L507.6 18.5L485.8 18.4L482.6 18.3L459.5 17.6L457.6 17.5L433.1 16.8L432.5 16.8L424.5 16.5L407.5 16.5L407.5 52.9L407.5 89.3L407.5 125.7Z" fill="#0060ff" fill-rule="evenodd"/>
<path d="M407.8 16.7L407.5 16.7L407.5 52.9L407.5 89.3L407.5 125.7L407.5 162L407.5 198.4L407.5 234.8L432.5 234.8L457.6 234.8L482.6 234.8L507.6 234.8L532.7 234.8L557.7 234.8L582.7 234.8L607.8 234.8L632.8 234.8L632.8 198.4L632.8 162L632.8 125.7L632.8 89.3L632.8 52.9L632.8 21.5L616.3 22.3L607.8 22L590.8 21.9L582.7 21.6L565.2 21.4L557.7 21.2L539.2 20.8L532.7 20.6L512.9 19.8L507.6 19.5L487.3 19.4L482.6 19.2L460.9 18.6L457.6 18.4L434.5 17.6L432.5 17.6Z" fill="#0075ff" fill-rule="evenodd"/>
<path d="M409.3 17.5L407.5 17.5L407.5 52.9L407.5 89.3L407.5 125.7L407.5 162L407.5 198.4L407.5 234.8L432.5 234.8L457.6 234.8L482.6 234.8L507.6 234.8L532.7 234.8L557.7 234.8L582.7 234.8L607.8 234.8L632.8 234.8L632.8 198.4L632.8 162L632.8 125.7L632.8 89.3L632.8 52.9L632.8 23L618.1 23.8L607.8 23.4L592.4 23.3L582.7 22.9L566.8 22.7L557.7 22.4L540.8 22L532.7 21.8L514.5 21L507.6 20.6L488.8 20.5L482.6 20.2L462.4 19.5L457.6 19.3L435.9 18.6L432.5 18.4Z" fill="#008aff" fill-rule="evenodd"/>
<path d="M410.7 18.4L407.5 18.4L407.5 52.9L407.5 89.3L407.5 125.7L407.5 162L407.5 198.4L407.5 234.8L432.5 234.8L457.6 234.8L482.6 234.8L507.6 234.8L532.7 234.8L557.7 234.8L582.7 234.8L607.8 234.8L632.8 234.8L632.8 198.4L632.8 162L632.8 125.7L632.8 89.3L632.8 52.9L632.8 24.7L619.8 25.5L607.8 24.9L594.1 24.8L582.7 24.3L568.4 24.2L557.7 23.7L542.4 23.3L532.7 23L516.1 22.3L507.6 21.7L490.3 21.6L482.6 21.2L463.9 20.6L457.6 20.2L437.4 19.5L432.5 19.3Z" fill="#009fff" fill-rule="evenodd"/>
<path d="M412.1 19.4L407.5 19.2L407.5 52.9L407.5 89.3L407.5 125.7L407.5 162L407.5 198.4L407.5 234.8L432.5 234.8L457.6 234.8L482.6 234.8L507.6 234.8L532.7 234.8L557.7 234.8L582.7 234.8L607.8 234.8L632.8 234.8L632.8 198.4L632.8 162L632.8 125.7L632.8 89.3L632.8 52.9L632.8 26.6L621.6 27.3L607.8 26.6L595.8 26.5L582.7 25.9L570 25.7L557.7 25.2L544 24.8L532.7 24.4L517.8 23.7L507.6 23L491.8 22.9L482.6 22.3L465.4 21.7L457.6 21.3L438.8 20.6L432.5 20.2Z" fill="#00b5ff" fill-rule="evenodd"/>
<path d="M413.5 20.4L407.5 20.2L407.5 52.9L407.5 89.3L407.5 125.7L407.5 162L407.5 198.4L407.5 234.8L432.5 234.8L457.6 234.8L482.6 234.8L507.6 234.8L532.7 234.8L557.7 234.8L582.7 234.8L607.8 234.8L632.8 234.8L632.8 198.4L632.8 162L632.8 125.7L632.8 89.3L632.8 52.9L632.8 28.7L623.3 29.4L607.8 28.5L597.5 28.4L582.7 27.6L571.6 27.5L557.7 26.8L545.6 26.4L532.7 25.9L519.4 25.2L507.6 24.3L493.4 24.2L482.6 23.5L466.9 22.9L457.6 22.4L440.3 21.6L432.5 21.2Z" fill="#00caff" fill-rule="evenodd"/>
<path d="M414.9 21.4L407.5 21.2L407.5 52.9L407.5 89.3L407.5 125.7L407.5 162L407.5 198.4L407.5 234.8L432.5 234.8L457.6 234.8L482.6 234.8L507.6 234.8L532.7 234.8L557.7 234.8L582.7 234.8L607.8 234.8L632.8 234.8L632.8 198.4L632.8 162L632.8 125.7L632.8 89.3L632.8 52.9L632.8 31.2L625.1 31.9L607.8 30.6L599.1 30.6L582.7 29.6L573.3 29.4L557.7 28.6L547.2 28.2L532.7 27.6L521 26.9L507.6 25.8L494.9 25.7L482.6 24.8L468.3 24.2L457.6 23.5L441.7 22.8L432.5 22.3Z" fill="#00dfff" fill-rule="evenodd"/>
<path d="M416.4 22.6L407.5 22.3L407.5 52.9L407.5 89.3L407.5 125.7L407.5 162L407.5 198.4L407.5 234.8L432.5 234.8L457.6 234.8L482.6 234.8L507.6 234.8L532.7 234.8L557.7 234.8L582.7 234.8L607.8 234.8L632.8 234.8L632.8 198.4L632.8 162L632.8 125.7L632.8 89.3L632.8 52.9L632.8 34.1L626.8 34.7L607.8 33.1L600.8 33L582.7 31.8L574.9 31.7L557.7 30.6L548.8 30.2L532.7 29.5L522.7 28.8L507.6 27.4L496.4 27.3L482.6 26.2L469.8 25.6L457.6 24.8L443.1 24.1L432.5 23.4Z" fill="#00f4ff" fill-rule="evenodd"/>
<path d="M417.8 23.8L407.5 23.5L407.5 52.9L407.5 89.3L407.5 125.7L407.5 162L407.5 198.4L407.5 234.8L432.5 234.8L457.6 234.8L482.6 234.8L507.6 234.8L532.7 234.8L557.7 234.8L582.7 234.8L607.8 234.8L632.8 234.8L632.8 198.4L632.8 162L632.8 125.7L632.8 89.3L632.8 52.9L632.8 37.7L628.5 38.2L607.8 36.1L602.5 36L582.7 34.4L576.5 34.3L557.7 32.9L550.4 32.6L532.7 31.6L524.3 30.9L507.6 29.2L497.9 29.1L482.6 27.8L471.3 27.2L457.6 26.1L444.6 25.5L432.5 24.6Z" fill="#00fff4" fill-rule="evenodd"/>
<path d="M419.2 25.1L407.5 24.8L407.5 52.9L407.5 89.3L407.5 125.7L407.5 162L407.5 198.4L407.5 234.8L432.5 234.8L457.6 234.8L482.6 234.8L507.6 234.8L532.7 234.8L557.7 234.8L582.7 234.8L607.8 234.8L632.8 234.8L632.8 198.4L632.8 162L632.8 125.7L632.8 89.3L632.8 52.9L632.8 42.3L630.3 42.8L607.8 39.7L604.1 39.7L582.7 37.5L578.1 37.4L557.7 35.6L552 35.3L532.7 34.1L525.9 33.4L507.6 31.2L499.4 31.2L482.6 29.5L472.7 29L457.6 27.6L446 27L432.5 25.9Z" fill="#00ffdf" fill-rule="evenodd"/>
<path d="M420.6 26.6L407.5 26.1L407.5 52.9L407.5 89.3L407.5 125.7L407.5 162L407.5 198.4L407.5 234.8L432.5 234.8L457.6 234.8L482.6 234.8L507.6 234.8L532.7 234.8L557.7 234.8L582.7 234.8L607.8 234.8L632.8 234.8L632.8 198.4L632.8 162L632.8 125.7L632.8 89.3L632.8 52.9L632.8 48.9L632 49.1L607.8 44.5L605.8 44.5L582.7 41.4L579.7 41.3L557.7 38.9L553.6 38.6L532.7 37L527.5 36.4L507.6 33.6L500.9 33.5L482.6 31.5L474.2 30.9L457.6 29.3L447.5 28.7L432.5 27.4Z" fill="#00ffca" fill-rule="evenodd"/>
<path d="M422 28.2L407.5 27.6L407.5 52.9L407.5 89.3L407.5 125.7L407.5 162L407.5 198.4L407.5 234.8L432.5 234.8L457.6 234.8L482.6 234.8L507.6 234.8L532.7 234.8L557.7 234.8L582.7 234.8L607.8 234.8L632.8 234.8L632.8 198.4L632.8 162L632.8 125.7L632.8 89.3L632.8 53.4L613.6 52.9L607.8 51.3L607.5 51.3L582.7 46.6L581.4 46.5L557.7 43L555.2 42.8L532.7 40.5L529.2 40L507.6 36.3L502.4 36.3L482.6 33.7L475.7 33.2L457.6 31.2L448.9 30.5L432.5 29Z" fill="#00ffb5" fill-rule="evenodd"/>
<path d="M423.5 30L407.5 29.3L407.5 52.9L407.5 89.3L407.5 125.7L407.5 162L407.5 198.4L407.5 234.8L432.5 234.8L457.6 234.8L482.6 234.8L507.6 234.8L532.7 234.8L557.7 234.8L582.7 234.8L607.8 234.8L632.8 234.8L632.8 198.4L632.8 162L632.8 125.7L632.8 89.3L632.8 54.3L609.1 53.6L607.8 53.6L583 53L582.7 53L577.5 52.9L557.7 48.6L556.8 48.5L532.7 45.2L530.8 44.8L507.6 39.7L504 39.6L482.6 36.2L477.2 35.8L457.6 33.3L450.4 32.7L432.5 30.7Z" fill="#00ff9f" fill-rule="evenodd"/>
<path d="M424.9 32L407.5 31.2L407.5 52.9L407.5 89.3L407.5 125.7L407.5 162L407.5 198.4L407.5 234.8L432.5 234.8L457.6 234.8L482.6 234.8L507.6 234.8L532.7 234.8L557.7 234.8L582.7 234.8L607.8 234.8L632.8 234.8L632.8 198.4L632.8 162L632.8 125.7L632.8 89.3L632.8 55.2L610.6 54.6L607.8 54.5L584.5 53.9L582.7 53.9L558.4 53.3L557.7 53.3L538.6 52.9L532.7 51.7L532.4 51.7L507.6 43.9L505.5 43.8L482.6 39.3L478.6 38.9L457.6 35.7L451.8 35.1L432.5 32.7Z" fill="#00ff8a" fill-rule="evenodd"/>
<path d="M407.5 89.3L407.5 125.7L407.5 162L407.5 198.4L407.5 234.8L432.5 234.8L457.6 234.8L482.6 234.8L507.6 234.8L532.7 234.8L557.7 234.8L582.7 234.8L607.8 234.8L632.8 234.8L632.8 198.4L632.8 162L632.8 125.7L632.8 89.3L632.8 56.2L612.2 55.6L607.8 55.5L586.1 54.9L582.7 54.8L560 54.2L557.7 54.1L534 53.7L532.7 53.6L515.8 52.9L507.6 49.7L507 49.6L482.6 43.1L480.1 42.8L457.6 38.5L453.2 38L432.5 35L426.3 34.3L407.5 33.3L407.5 52.9Z" fill="#00ff75" fill-rule="evenodd"/>
<path d="M427.7 37L407.5 35.7L407.5 52.9L407.5 89.3L407.5 125.7L407.5 162L407.5 198.4L407.5 234.8L432.5 234.8L457.6 234.8L482.6 234.8L507.6 234.8L532.7 234.8L557.7 234.8L582.7 234.8L607.8 234.8L632.8 234.8L632.8 198.4L632.8 162L632.8 125.7L632.8 89.3L632.8 57.3L613.7 56.7L607.8 56.6L587.7 56L582.7 55.8L561.5 55.2L557.7 55.1L535.5 54.6L532.7 54.5L508.6 53.4L507.6 53.4L496.1 52.9L482.6 48.2L481.6 48L457.6 42L454.7 41.6L432.5 37.6Z" fill="#00ff60" fill-rule="evenodd"/>
<path d="M407.5 125.7L407.5 162L407.5 198.4L407.5 234.8L432.5 234.8L457.6 234.8L482.6 234.8L507.6 234.8L532.7 234.8L557.7 234.8L582.7 234.8L607.8 234.8L632.8 234.8L632.8 198.4L632.8 162L632.8 125.7L632.8 89.3L632.8 58.5L615.3 57.9L607.8 57.7L589.3 57.1L582.7 56.9L563.1 56.3L557.7 56.1L537.1 55.6L532.7 55.5L510.1 54.4L507.6 54.3L483.1 53.2L482.6 53.2L476.7 52.9L457.6 46.5L456.1 46.2L432.5 40.8L429.1 40.3L407.5 38.6L407.5 52.9L407.5 89.3Z" fill="#00ff4a" fill-rule="evenodd"/>
<path d="M407.5 125.7L407.5 162L407.5 198.4L407.5 234.8L432.5 234.8L457.6 234.8L482.6 234.8L507.6 234.8L532.7 234.8L557.7 234.8L582.7 234.8L607.8 234.8L632.8 234.8L632.8 198.4L632.8 162L632.8 125.7L632.8 89.3L632.8 59.8L616.9 59.1L607.8 58.9L590.8 58.3L582.7 58L564.7 57.4L557.7 57.2L538.6 56.7L532.7 56.5L511.7 55.4L507.6 55.3L484.8 54.2L482.6 54.1L457.8 52.9L457.6 52.8L457.6 52.8L432.5 44.8L430.6 44.4L407.5 42.1L407.5 52.9L407.5 89.3Z" fill="#00ff35" fill-rule="evenodd"/>
<path d="M407.5 125.7L407.5 162L407.5 198.4L407.5 234.8L432.5 234.8L457.6 234.8L482.6 234.8L507.6 234.8L532.7 234.8L557.7 234.8L582.7 234.8L607.8 234.8L632.8 234.8L632.8 198.4L632.8 162L632.8 125.7L632.8 89.3L632.8 61.1L618.4 60.5L607.8 60.2L592.4 59.6L582.7 59.3L566.2 58.7L557.7 58.3L540.2 57.9L532.7 57.6L513.3 56.5L507.6 56.4L486.4 55.2L482.6 55.1L459.3 53.9L457.6 53.8L439.5 52.9L432.5 50.2L432 50.1L407.5 46.6L407.5 52.9L407.5 89.3Z" fill="#00ff20" fill-rule="evenodd"/>
<path d="M407.5 162L407.5 198.4L407.5 234.8L432.5 234.8L457.6 234.8L482.6 234.8L507.6 234.8L532.7 234.8L557.7 234.8L582.7 234.8L607.8 234.8L632.8 234.8L632.8 198.4L632.8 162L632.8 125.7L632.8 89.3L632.8 62.6L620 62L607.8 61.6L594 61.1L582.7 60.6L567.8 60L557.7 59.6L541.7 59.1L532.7 58.7L514.9 57.7L507.6 57.5L488.1 56.4L482.6 56.2L461 55L457.6 54.8L433.6 53.5L432.5 53.5L407.5 52.9L407.5 52.9L407.5 89.3L407.5 125.7Z" fill="#00ff0b" fill-rule="evenodd"/>
<path d="M407.5 162L407.5 198.4L407.5 234.8L432.5 234.8L457.6 234.8L482.6 234.8L507.6 234.8L532.7 234.8L557.7 234.8L582.7 234.8L607.8 234.8L632.8 234.8L632.8 198.4L632.8 162L632.8 125.7L632.8 89.3L632.8 64.3L621.6 63.7L607.8 63.2L595.5 62.6L582.7 62L569.4 61.5L557.7 60.9L543.2 60.5L532.7 60L516.5 59L507.6 58.7L489.8 57.6L482.6 57.3L462.7 56.1L457.6 55.9L435.4 54.6L432.5 54.6L409.3 54L407.5 54.1L407.5 89.3L407.5 125.7Z" fill="#0bff00" fill-rule="evenodd"/>
<path d="M407.5 162L407.5 198.4L407.5 234.8L432.5 234.8L457.6 234.8L482.6 234.8L507.6 234.8L532.7 234.8L557.7 234.8L582.7 234.8L607.8 234.8L632.8 234.8L632.8 198.4L632.8 162L632.8 125.7L632.8 89.3L632.8 66.1L623.1 65.6L607.8 64.9L597.1 64.4L582.7 63.6L570.9 63.1L557.7 62.4L544.8 61.9L532.7 61.4L518.1 60.3L507.6 60L491.4 58.9L482.6 58.5L464.4 57.4L457.6 57.1L437.2 55.8L432.5 55.7L411.1 55.1L407.5 55.4L407.5 89.3L407.5 125.7Z" fill="#20ff00" fill-rule="evenodd"/>
<path d="M407.5 162L407.5 198.4L407.5 234.8L432.5 234.8L457.6 234.8L482.6 234.8L507.6 234.8L532.7 234.8L557.7 234.8L582.7 234.8L607.8 234.8L632.8 234.8L632.8 198.4L632.8 162L632.8 125.7L632.8 89.3L632.8 68.2L624.7 67.7L607.8 66.9L598.7 66.4L582.7 65.4L572.5 64.9L557.7 64L546.3 63.6L532.7 62.9L519.7 61.9L507.6 61.4L493.1 60.3L482.6 59.9L466.1 58.7L457.6 58.3L439 57.1L432.5 56.9L413 56.3L407.5 56.7L407.5 89.3L407.5 125.7Z" fill="#35ff00" fill-rule="evenodd"/>
<path d="M407.5 162L407.5 198.4L407.5 234.8L432.5 234.8L457.6 234.8L482.6 234.8L507.6 234.8L532.7 234.8L557.7 234.8L582.7 234.8L607.8 234.8L632.8 234.8L632.8 198.4L632.8 162L632.8 125.7L632.8 89.3L632.8 70.6L626.2 70.1L607.8 69.1L600.3 68.6L582.7 67.5L574.1 66.9L557.7 65.8L547.9 65.4L532.7 64.5L521.3 63.5L507.6 63L494.7 61.9L482.6 61.4L467.9 60.2L457.6 59.7L440.8 58.4L432.5 58.2L414.8 57.7L407.5 58.2L407.5 89.3L407.5 125.7Z" fill="#4aff00" fill-rule="evenodd"/>
<path d="M407.5 162L407.5 198.4L407.5 234.8L432.5 234.8L457.6 234.8L482.6 234.8L507.6 234.8L532.7 234.8L557.7 234.8L582.7 234.8L607.8 234.8L632.8 234.8L632.8 198.4L632.8 162L632.8 125.7L632.8 89.3L632.8 73.5L627.8 73L607.8 71.7L601.9 71.2L582.7 69.8L575.6 69.3L557.7 67.9L549.4 67.5L532.7 66.4L522.9 65.4L507.6 64.7L496.4 63.7L482.6 63L469.6 61.8L457.6 61.2L442.6 60L432.5 59.7L416.6 59.1L407.5 59.9L407.5 89.3L407.5 125.7Z" fill="#60ff00" fill-rule="evenodd"/>
<path d="M407.5 162L407.5 198.4L407.5 234.8L432.5 234.8L457.6 234.8L482.6 234.8L507.6 234.8L532.7 234.8L557.7 234.8L582.7 234.8L607.8 234.8L632.8 234.8L632.8 198.4L632.8 162L632.8 125.7L632.8 89.3L632.8 77L629.4 76.6L607.8 74.8L603.4 74.4L582.7 72.5L577.2 72L557.7 70.2L551 69.8L532.7 68.4L524.4 67.5L507.6 66.7L498 65.7L482.6 64.8L471.3 63.7L457.6 62.8L444.4 61.6L432.5 61.3L418.4 60.7L407.5 61.8L407.5 89.3L407.5 125.7Z" fill="#75ff00" fill-rule="evenodd"/>
<path d="M407.5 162L407.5 198.4L407.5 234.8L432.5 234.8L457.6 234.8L482.6 234.8L507.6 234.8L532.7 234.8L557.7 234.8L582.7 234.8L607.8 234.8L632.8 234.8L632.8 198.4L632.8 162L632.8 125.7L632.8 89.3L632.8 81.4L630.9 81.2L607.8 78.7L605 78.3L582.7 75.7L578.8 75.3L557.7 73L552.5 72.6L532.7 70.8L526 70L507.6 68.9L499.7 67.9L482.6 66.8L473 65.7L457.6 64.7L446.1 63.5L432.5 63L420.2 62.5L407.5 63.9L407.5 89.3L407.5 125.7Z" fill="#8aff00" fill-rule="evenodd"/>
<path d="M407.5 162L407.5 198.4L407.5 234.8L432.5 234.8L457.6 234.8L482.6 234.8L507.6 234.8L532.7 234.8L557.7 234.8L582.7 234.8L607.8 234.8L632.8 234.8L632.8 198.4L632.8 162L632.8 125.7L632.8 89.3L632.8 87.7L632.5 87.6L607.8 83.8L606.6 83.6L582.7 79.8L580.4 79.5L557.7 76.3L554 76L532.7 73.7L527.6 72.9L507.6 71.5L501.3 70.6L482.6 69.1L474.8 68.1L457.6 66.8L447.9 65.6L432.5 65L422 64.5L407.5 66.3L407.5 89.3L407.5 125.7Z" fill="#9fff00" fill-rule="evenodd"/>
<path d="M407.5 162L407.5 198.4L407.5 234.8L432.5 234.8L457.6 234.8L482.6 234.8L507.6 234.8L532.7 234.8L557.7 234.8L582.7 234.8L607.8 234.8L632.8 234.8L632.8 198.4L632.8 162L632.8 125.7L632.8 90.2L608.3 89.5L607.8 89.5L599.8 89.3L582.7 85.4L581.9 85.2L557.7 80.6L555.6 80.3L532.7 77.2L529.2 76.5L507.6 74.6L503 73.8L482.6 71.8L476.5 70.9L457.6 69.1L449.7 68.1L432.5 67.3L423.8 66.8L407.5 69.2L407.5 89.3L407.5 125.7Z" fill="#b5ff00" fill-rule="evenodd"/>
<path d="M407.5 162L407.5 198.4L407.5 234.8L432.5 234.8L457.6 234.8L482.6 234.8L507.6 234.8L532.7 234.8L557.7 234.8L582.7 234.8L607.8 234.8L632.8 234.8L632.8 198.4L632.8 162L632.8 125.7L632.8 91.5L610.4 90.8L607.8 90.8L583.8 89.9L582.7 89.9L568.5 89.3L557.7 86.4L557.1 86.3L532.7 81.6L530.8 81.1L507.6 78.4L504.7 77.8L482.6 75.1L478.2 74.3L457.6 72L451.5 71L432.5 70L425.6 69.5L407.5 72.8L407.5 89.3L407.5 125.7Z" fill="#caff00" fill-rule="evenodd"/>
<path d="M407.5 162L407.5 198.4L407.5 234.8L432.5 234.8L457.6 234.8L482.6 234.8L507.6 234.8L532.7 234.8L557.7 234.8L582.7 234.8L607.8 234.8L632.8 234.8L632.8 198.4L632.8 162L632.8 125.7L632.8 92.8L612.5 92.2L607.8 92.1L586 91.2L582.7 91.2L559.2 90.1L557.7 90.1L538.2 89.3L532.7 87.8L532.4 87.7L507.6 83.5L506.3 83.1L482.6 79.3L479.9 78.6L457.6 75.4L453.3 74.5L432.5 73.2L427.4 72.8L407.5 77.3L407.5 89.3L407.5 125.7Z" fill="#dfff00" fill-rule="evenodd"/>
<path d="M407.5 162L407.5 198.4L407.5 234.8L432.5 234.8L457.6 234.8L482.6 234.8L507.6 234.8L532.7 234.8L557.7 234.8L582.7 234.8L607.8 234.8L632.8 234.8L632.8 198.4L632.8 162L632.8 125.7L632.8 94.3L614.6 93.7L607.8 93.6L588.2 92.7L582.7 92.6L561.5 91.6L557.7 91.5L534.7 90.4L532.7 90.4L508.1 89.6L507.6 89.6L500.9 89.3L482.6 85L481.6 84.6L457.6 79.8L455.1 79.1L432.5 77.2L429.2 76.9L407.5 83.8L407.5 89.3L407.5 125.7Z" fill="#f4ff00" fill-rule="evenodd"/>
<path d="M407.5 125.7L407.5 162L407.5 198.4L407.5 234.8L432.5 234.8L457.6 234.8L482.6 234.8L507.6 234.8L532.7 234.8L557.7 234.8L582.7 234.8L607.8 234.8L632.8 234.8L632.8 198.4L632.8 162L632.8 125.7L632.8 96L616.7 95.4L607.8 95.2L590.3 94.3L582.7 94.2L563.8 93.2L557.7 93.1L537.1 92L532.7 92L510.7 91.1L507.6 91.1L483.8 90L482.6 90L469.4 89.3L457.6 86L456.9 85.7L432.5 82.7L431 82.5L415.9 89.3L408.9 90.1L407.5 90.9Z" fill="#fff400" fill-rule="evenodd"/>
<path d="M407.5 125.7L407.5 162L407.5 198.4L407.5 234.8L432.5 234.8L457.6 234.8L482.6 234.8L507.6 234.8L532.7 234.8L557.7 234.8L582.7 234.8L607.8 234.8L632.8 234.8L632.8 198.4L632.8 162L632.8 125.7L632.8 97.8L618.8 97.2L607.8 97L592.5 96.1L582.7 96L566.1 94.9L557.7 94.8L539.5 93.7L532.7 93.7L513.2 92.8L507.6 92.8L486.5 91.7L482.6 91.7L459.4 90.3L457.6 90.4L433.1 89.6L432.5 89.7L412.3 92.3L407.5 95.6Z" fill="#ffdf00" fill-rule="evenodd"/>
<path d="M407.5 125.7L407.5 162L407.5 198.4L407.5 234.8L432.5 234.8L457.6 234.8L482.6 234.8L507.6 234.8L532.7 234.8L557.7 234.8L582.7 234.8L607.8 234.8L632.8 234.8L632.8 198.4L632.8 162L632.8 125.7L632.8 99.9L620.9 99.3L607.8 99L594.7 98.2L582.7 97.9L568.4 96.9L557.7 96.7L542 95.7L532.7 95.6L515.8 94.8L507.6 94.7L489.3 93.6L482.6 93.7L462.4 92.3L457.6 92.5L436.6 91.7L432.5 92.3L415.7 94.8L407.5 102.3Z" fill="#ffca00" fill-rule="evenodd"/>
<path d="M407.5 125.7L407.5 162L407.5 198.4L407.5 234.8L432.5 234.8L457.6 234.8L482.6 234.8L507.6 234.8L532.7 234.8L557.7 234.8L582.7 234.8L607.8 234.8L632.8 234.8L632.8 198.4L632.8 162L632.8 125.7L632.8 102.4L623 101.8L607.8 101.3L596.9 100.5L582.7 100.2L570.7 99.2L557.7 98.9L544.4 97.9L532.7 97.8L518.4 97L507.6 96.8L492 95.8L482.6 95.9L465.5 94.6L457.6 95L440 94.2L432.5 95.4L419.1 97.8L407.5 114.3Z" fill="#ffb500" fill-rule="evenodd"/>
<path d="M410.6 127.5L407.5 150.1L407.5 162L407.5 198.4L407.5 234.8L432.5 234.8L457.6 234.8L482.6 234.8L507.6 234.8L532.7 234.8L557.7 234.8L582.7 234.8L607.8 234.8L632.8 234.8L632.8 198.4L632.8 162L632.8 125.7L632.8 105.2L625.1 104.7L607.8 104L599.1 103.2L582.7 102.8L573 101.9L557.7 101.4L546.8 100.5L532.7 100.3L520.9 99.5L507.6 99.3L494.7 98.3L482.6 98.5L468.5 97.2L457.6 97.9L443.5 97.2L432.5 99.2L422.6 101.6L411.4 125.7Z" fill="#ff9f00" fill-rule="evenodd"/>
<path d="M425.9 106.5L418.6 125.7L416.3 131.7L413.6 162L413.4 165.8L413 198.4L412.9 201.9L412.9 234.8L432.5 234.8L457.6 234.8L482.6 234.8L507.6 234.8L532.7 234.8L557.7 234.8L582.7 234.8L607.8 234.8L632.8 234.8L632.8 198.4L632.8 162L632.8 125.7L632.8 108.7L627.2 108.2L607.8 107.3L601.2 106.6L582.7 105.9L575.3 105.1L557.7 104.5L549.2 103.6L532.7 103.3L523.4 102.5L507.6 102.3L497.5 101.3L482.6 101.6L471.6 100.3L457.6 101.5L446.9 100.8L432.5 104.3Z" fill="#ff8a00" fill-rule="evenodd"/>
<path d="M429.4 113.6L425.8 125.7L422 137.2L420.2 162L419.8 171.2L419.5 198.4L419.4 207.2L419.3 234.8L432.5 234.8L457.6 234.8L482.6 234.8L507.6 234.8L532.7 234.8L557.7 234.8L582.7 234.8L607.8 234.8L632.8 234.8L632.8 198.4L632.8 162L632.8 125.7L632.8 113.2L629.3 112.8L607.8 111.4L603.4 110.8L582.7 109.9L577.6 109.1L557.7 108.2L551.7 107.4L532.7 107L526 106.3L507.6 106L500.2 105.1L482.6 105.4L474.6 104.3L457.6 106.1L450.4 105.5L432.5 112Z" fill="#ff7500" fill-rule="evenodd"/>
<path d="M433.2 126L432.5 126.7L427.6 146L426.8 162L426.1 179.6L426 198.4L425.8 215.3L425.7 234.8L432.5 234.8L457.6 234.8L482.6 234.8L507.6 234.8L532.7 234.8L557.7 234.8L582.7 234.8L607.8 234.8L632.8 234.8L632.8 198.4L632.8 162L632.8 125.7L632.8 119.5L631.4 119.2L607.8 117L605.6 116.6L582.7 115.2L579.9 114.5L557.7 113.2L554.1 112.5L532.7 111.8L528.5 111.3L507.6 110.8L502.9 110L482.6 110.5L477.7 109.5L457.6 112.7L453.8 112.2L434 125.7Z" fill="#ff6000" fill-rule="evenodd"/>
<path d="M455.6 125.7L442.9 133L434.6 162L434.3 163.1L432.5 198.1L432.5 198.4L432.2 232.8L432.2 234.8L432.5 234.8L457.6 234.8L482.6 234.8L507.6 234.8L532.7 234.8L557.7 234.8L582.7 234.8L607.8 234.8L632.8 234.8L632.8 198.4L632.8 162L632.8 127L607.9 125.7L607.8 125.7L606.4 125.7L582.7 123.1L582.2 122.9L557.7 120.5L556.5 120.1L532.7 118.9L531.1 118.5L507.6 117.6L505.6 117.1L482.6 118.1L480.7 117.5L457.6 124.1L457.3 124Z" fill="#ff4a00" fill-rule="evenodd"/>
<path d="M457.6 139.3L452.6 145.9L449.8 162L447.4 174.1L446.6 198.4L446.4 209.3L446 234.8L457.6 234.8L482.6 234.8L507.6 234.8L532.7 234.8L557.7 234.8L582.7 234.8L607.8 234.8L632.8 234.8L632.8 198.4L632.8 162L632.8 131.9L615.3 130.7L607.8 130.8L589 129.7L582.7 129.8L562.4 128.6L557.7 128.7L536.4 127.9L532.7 128.1L510.6 127.4L507.6 127.6L486.9 128.3L482.6 129.1L467.5 132.7Z" fill="#ff3500" fill-rule="evenodd"/>
<path d="M482.6 145L478.5 147.6L471.7 162L467.6 169.1L463.3 198.4L463.3 202L462.6 234.8L482.6 234.8L507.6 234.8L532.7 234.8L557.7 234.8L582.7 234.8L607.8 234.8L632.8 234.8L632.8 198.4L632.8 162L632.8 139L622.8 137.9L607.8 138.2L597.2 137.3L582.7 137.4L571.4 136.3L557.7 136.9L546.2 136.2L532.7 136.9L521.3 136.4L507.6 138L498.2 138.6Z" fill="#ff2000" fill-rule="evenodd"/>
<path d="M532.7 159.3L532.1 159.2L526.6 162L512.2 164.8L507.6 171L502.1 181.2L497.8 198.4L498.2 211.5L498 234.8L507.6 234.8L532.7 234.8L557.7 234.8L582.7 234.8L607.8 234.8L632.8 234.8L632.8 198.4L632.8 162L632.8 152.4L630.2 151.7L607.8 152.9L605.4 152.3L582.7 152.9L580.4 152.3L557.7 154.9L556 154.6Z" fill="#ff0000" fill-rule="evenodd"/>
<path d="M632.8 23L618.1 23.8L607.8 23.4L592.4 23.3L582.7 22.9L566.8 22.7L557.7 22.4L540.8 22L532.7 21.8L514.5 21L507.6 20.6L488.8 20.5L482.6 20.2L462.4 19.5L457.6 19.3L435.9 18.6L432.5 18.4L409.3 17.5L407.5 17.5M632.8 37.7L628.5 38.2L607.8 36.1L602.5 36L582.7 34.4L576.5 34.3L557.7 32.9L550.4 32.6L532.7 31.6L524.3 30.9L507.6 29.2L497.9 29.1L482.6 27.8L471.3 27.2L457.6 26.1L444.6 25.5L432.5 24.6L417.8 23.8L407.5 23.5M632.8 56.2L612.2 55.6L607.8 55.5L586.1 54.9L582.7 54.8L560 54.2L557.7 54.1L534 53.7L532.7 53.6L515.8 52.9L507.6 49.7L507 49.6L482.6 43.1L480.1 42.8L457.6 38.5L453.2 38L432.5 35L426.3 34.3L407.5 33.3M632.8 64.3L621.6 63.7L607.8 63.2L595.5 62.6L582.7 62L569.4 61.5L557.7 60.9L543.2 60.5L532.7 60L516.5 59L507.6 58.7L489.8 57.6L482.6 57.3L462.7 56.1L457.6 55.9L435.4 54.6L432.5 54.6L409.3 54L407.5 54.1M632.8 81.4L630.9 81.2L607.8 78.7L605 78.3L582.7 75.7L578.8 75.3L557.7 73L552.5 72.6L532.7 70.8L526 70L507.6 68.9L499.7 67.9L482.6 66.8L473 65.7L457.6 64.7L446.1 63.5L432.5 63L420.2 62.5L407.5 63.9M632.8 96L616.7 95.4L607.8 95.2L590.3 94.3L582.7 94.2L563.8 93.2L557.7 93.1L537.1 92L532.7 92L510.7 91.1L507.6 91.1L483.8 90L482.6 90L469.4 89.3L457.6 86L456.9 85.7L432.5 82.7L431 82.5L415.9 89.3L408.9 90.1L407.5 90.9M632.8 113.2L629.3 112.8L607.8 111.4L603.4 110.8L582.7 109.9L577.6 109.1L557.7 108.2L551.7 107.4L532.7 107L526 106.3L507.6 106L500.2 105.1L482.6 105.4L474.6 104.3L457.6 106.1L450.4 105.5L432.5 112L429.4 113.6L425.8 125.7L422 137.2L420.2 162L419.8 171.2L419.5 198.4L419.4 207.2L419.3 234.8" fill="none" stroke-linejoin="round" stroke="#000" stroke-opacity="0.38" stroke-width="0.5"/>
<rect x="635.4" y="16.50" width="16.8" height="218.30" fill="#ff0000"/>
<rect x="635.4" y="21.05" width="16.8" height="213.75" fill="#ff2000"/>
<rect x="635.4" y="25.60" width="16.8" height="209.20" fill="#ff3500"/>
<rect x="635.4" y="30.14" width="16.8" height="204.66" fill="#ff4a00"/>
<rect x="635.4" y="34.69" width="16.8" height="200.11" fill="#ff6000"/>
<rect x="635.4" y="39.24" width="16.8" height="195.56" fill="#ff7500"/>
<rect x="635.4" y="43.79" width="16.8" height="191.01" fill="#ff8a00"/>
<rect x="635.4" y="48.34" width="16.8" height="186.46" fill="#ff9f00"/>
<rect x="635.4" y="52.88" width="16.8" height="181.92" fill="#ffb500"/>
<rect x="635.4" y="57.43" width="16.8" height="177.37" fill="#ffca00"/>
<rect x="635.4" y="61.98" width="16.8" height="172.82" fill="#ffdf00"/>
<rect x="635.4" y="66.53" width="16.8" height="168.27" fill="#fff400"/>
<rect x="635.4" y="71.08" width="16.8" height="163.72" fill="#f4ff00"/>
<rect x="635.4" y="75.62" width="16.8" height="159.18" fill="#dfff00"/>
<rect x="635.4" y="80.17" width="16.8" height="154.63" fill="#caff00"/>
<rect x="635.4" y="84.72" width="16.8" height="150.08" fill="#b5ff00"/>
<rect x="635.4" y="89.27" width="16.8" height="145.53" fill="#9fff00"/>
<rect x="635.4" y="93.81" width="16.8" height="140.99" fill="#8aff00"/>
<rect x="635.4" y="98.36" width="16.8" height="136.44" fill="#75ff00"/>
<rect x="635.4" y="102.91" width="16.8" height="131.89" fill="#60ff00"/>
<rect x="635.4" y="107.46" width="16.8" height="127.34" fill="#4aff00"/>
<rect x="635.4" y="112.01" width="16.8" height="122.79" fill="#35ff00"/>
<rect x="635.4" y="116.55" width="16.8" height="118.25" fill="#20ff00"/>
<rect x="635.4" y="121.10" width="16.8" height="113.70" fill="#0bff00"/>
<rect x="635.4" y="125.65" width="16.8" height="109.15" fill="#00ff0b"/>
<rect x="635.4" y="130.20" width="16.8" height="104.60" fill="#00ff20"/>
<rect x="635.4" y="134.75" width="16.8" height="100.05" fill="#00ff35"/>
<rect x="635.4" y="139.29" width="16.8" height="95.51" fill="#00ff4a"/>
<rect x="635.4" y="143.84" width="16.8" height="90.96" fill="#00ff60"/>
<rect x="635.4" y="148.39" width="16.8" height="86.41" fill="#00ff75"/>
<rect x="635.4" y="152.94" width="16.8" height="81.86" fill="#00ff8a"/>
<rect x="635.4" y="157.49" width="16.8" height="77.31" fill="#00ff9f"/>
<rect x="635.4" y="162.03" width="16.8" height="72.77" fill="#00ffb5"/>
<rect x="635.4" y="166.58" width="16.8" height="68.22" fill="#00ffca"/>
<rect x="635.4" y="171.13" width="16.8" height="63.67" fill="#00ffdf"/>
<rect x="635.4" y="175.68" width="16.8" height="59.12" fill="#00fff4"/>
<rect x="635.4" y="180.23" width="16.8" height="54.58" fill="#00f4ff"/>
<rect x="635.4" y="184.77" width="16.8" height="50.03" fill="#00dfff"/>
<rect x="635.4" y="189.32" width="16.8" height="45.48" fill="#00caff"/>
<rect x="635.4" y="193.87" width="16.8" height="40.93" fill="#00b5ff"/>
<rect x="635.4" y="198.42" width="16.8" height="36.38" fill="#009fff"/>
<rect x="635.4" y="202.96" width="16.8" height="31.84" fill="#008aff"/>
<rect x="635.4" y="207.51" width="16.8" height="27.29" fill="#0075ff"/>
<rect x="635.4" y="212.06" width="16.8" height="22.74" fill="#0060ff"/>
<rect x="635.4" y="216.61" width="16.8" height="18.19" fill="#004aff"/>
<rect x="635.4" y="221.16" width="16.8" height="13.64" fill="#0035ff"/>
<rect x="635.4" y="225.70" width="16.8" height="9.10" fill="#0020ff"/>
<rect x="635.4" y="230.25" width="16.8" height="4.55" fill="#000bff"/>
<rect x="632.00" y="15.75" width="1.10" height="219.80" fill="#000"/>
<rect x="633.10" y="15.75" width="1.90" height="219.80" fill="#b0b0b0"/>
<rect x="635.00" y="15.75" width="0.80" height="219.80" fill="#000"/>
<rect x="651.90" y="15.75" width="1.30" height="219.80" fill="#000"/>
<path d="M406.50 16.50H633.50M406.50 234.80H633.50M635.00 16.50H653.20M635.00 234.80H653.20M407.25 15.75V235.55M407.50 235.3v4M432.53 235.3v4M457.57 235.3v4M482.60 235.3v4M507.63 235.3v4M532.67 235.3v4M557.70 235.3v4M582.73 235.3v4M607.77 235.3v4M632.80 235.3v4M407.0 16.50h-3.4M407.0 52.88h-3.4M407.0 89.27h-3.4M407.0 125.65h-3.4M407.0 162.03h-3.4M407.0 198.42h-3.4M407.0 234.80h-3.4M653.0 16.50h3.2M653.0 43.79h3.2M653.0 71.08h3.2M653.0 98.36h3.2M653.0 125.65h3.2M653.0 152.94h3.2M653.0 180.23h3.2M653.0 207.51h3.2M653.0 234.80h3.2" stroke="#000" stroke-width="1.5" fill="none"/>
<text x="407.5" y="249.6" text-anchor="middle">0.1</text>
<text x="432.5" y="249.6" text-anchor="middle">0.2</text>
<text x="457.6" y="249.6" text-anchor="middle">0.3</text>
<text x="482.6" y="249.6" text-anchor="middle">0.4</text>
<text x="507.6" y="249.6" text-anchor="middle">0.5</text>
<text x="532.7" y="249.6" text-anchor="middle">0.6</text>
<text x="557.7" y="249.6" text-anchor="middle">0.7</text>
<text x="582.7" y="249.6" text-anchor="middle">0.8</text>
<text x="607.8" y="249.6" text-anchor="middle">0.9</text>
<text x="632.8" y="249.6" text-anchor="middle">1.0</text>
<text x="401.4" y="21.1" text-anchor="end" style="font-size:10.4px">10<tspan dx="-0.9" dy="-4.0" font-size="7.8">18</tspan></text>
<text x="401.4" y="57.5" text-anchor="end" style="font-size:10.4px">10<tspan dx="-0.9" dy="-4.0" font-size="7.8">17</tspan></text>
<text x="401.4" y="93.9" text-anchor="end" style="font-size:10.4px">10<tspan dx="-0.9" dy="-4.0" font-size="7.8">16</tspan></text>
<text x="401.4" y="130.3" text-anchor="end" style="font-size:10.4px">10<tspan dx="-0.9" dy="-4.0" font-size="7.8">15</tspan></text>
<text x="401.4" y="166.6" text-anchor="end" style="font-size:10.4px">10<tspan dx="-0.9" dy="-4.0" font-size="7.8">14</tspan></text>
<text x="401.4" y="203.0" text-anchor="end" style="font-size:10.4px">10<tspan dx="-0.9" dy="-4.0" font-size="7.8">13</tspan></text>
<text x="401.4" y="239.4" text-anchor="end" style="font-size:10.4px">10<tspan dx="-0.9" dy="-4.0" font-size="7.8">12</tspan></text>
<text x="660.5" y="20.5">1.277</text>
<text x="660.5" y="47.7">1.258</text>
<text x="660.5" y="74.8">1.239</text>
<text x="660.5" y="102.0">1.220</text>
<text x="660.5" y="129.2">1.202</text>
<text x="660.5" y="156.3">1.183</text>
<text x="660.5" y="183.5">1.164</text>
<text x="660.5" y="210.6">1.145</text>
<text x="660.5" y="237.8">1.127</text>
<text x="524.0" y="10.8" text-anchor="middle" style="font-size:11.5px">(b)</text>
<text x="643.8" y="8.9" text-anchor="middle" style="font-size:11.8px">Voc (V)</text>
<text x="526.0" y="264.6" text-anchor="middle" style="font-size:11.5px">Thickness (µm)</text>
<text transform="translate(376.3,124.9) rotate(-90)" text-anchor="middle" style="font-size:11.8px">N<tspan dy="2.2" font-size="7.4">t</tspan><tspan dy="-2.2"> (cm</tspan><tspan dy="-4.2" font-size="7.4">-3</tspan><tspan dy="4.2">)</tspan></text>

<rect x="51.2" y="328.0" width="216.9" height="209.0" fill="#000bff"/>
<path d="M51.3 362.9L51.2 367.1L51.2 397.7L51.2 432.5L51.2 467.3L51.2 502.2L51.2 537L75.2 537L99.3 537L123.3 537L147.4 537L171.4 537L195.5 537L219.6 537L243.6 537L267.6 537L267.6 502.2L267.6 467.3L267.6 432.5L267.6 397.7L267.6 362.8L267.6 328L243.6 328L219.6 328L195.5 328L171.4 328L147.4 328L123.3 328L99.3 328L75.2 328L52.7 328L52.4 328.7L51.3 362.8Z" fill="#0020ff" fill-rule="evenodd"/>
<path d="M52.5 363.6L52.2 397.7L52.2 398.2L51.6 432.5L51.6 432.8L52 467.3L52 467.8L51.6 502.2L51.6 502.4L52.1 537L75.2 537L99.3 537L123.3 537L147.4 537L171.4 537L195.5 537L219.6 537L243.6 537L267.6 537L267.6 502.2L267.6 467.3L267.6 432.5L267.6 397.7L267.6 362.8L267.6 328L243.6 328L219.6 328L195.5 328L171.4 328L147.4 328L123.3 328L99.3 328L75.2 328L54.1 328L53.6 329.4L52.5 362.8Z" fill="#0035ff" fill-rule="evenodd"/>
<path d="M53.8 364.4L53.4 397.7L53.4 399L52.9 432.5L52.9 433.5L53.2 467.3L53.2 468.5L52.9 502.2L52.9 503.2L53.3 537L75.2 537L99.3 537L123.3 537L147.4 537L171.4 537L195.5 537L219.6 537L243.6 537L267.6 537L267.6 502.2L267.6 467.3L267.6 432.5L267.6 397.7L267.6 362.8L267.6 328L243.6 328L219.6 328L195.5 328L171.4 328L147.4 328L123.3 328L99.3 328L75.2 328L55.6 328L54.8 330.2L53.8 362.8Z" fill="#004aff" fill-rule="evenodd"/>
<path d="M55 365.1L54.6 397.7L54.6 399.7L54.2 432.5L54.2 434.3L54.5 467.3L54.5 469.3L54.1 502.2L54.1 503.9L54.5 537L75.2 537L99.3 537L123.3 537L147.4 537L171.4 537L195.5 537L219.6 537L243.6 537L267.6 537L267.6 502.2L267.6 467.3L267.6 432.5L267.6 397.7L267.6 362.8L267.6 328L243.6 328L219.6 328L195.5 328L171.4 328L147.4 328L123.3 328L99.3 328L75.2 328L57.1 328L55.9 330.9L55 362.8Z" fill="#0060ff" fill-rule="evenodd"/>
<path d="M56.2 366L55.9 397.7L55.9 400.6L55.4 432.5L55.4 435.1L55.7 467.3L55.7 470.1L55.4 502.2L55.4 504.8L55.8 537L75.2 537L99.3 537L123.3 537L147.4 537L171.4 537L195.5 537L219.6 537L243.6 537L267.6 537L267.6 502.2L267.6 467.3L267.6 432.5L267.6 397.7L267.6 362.8L267.6 328L243.6 328L219.6 328L195.5 328L171.4 328L147.4 328L123.3 328L99.3 328L75.2 328L58.5 328L57.1 331.8L56.3 362.8Z" fill="#0075ff" fill-rule="evenodd"/>
<path d="M57.4 366.8L57.1 397.7L57.1 401.4L56.7 432.5L56.7 436L57 467.3L57 471L56.7 502.2L56.7 505.6L57 537L75.2 537L99.3 537L123.3 537L147.4 537L171.4 537L195.5 537L219.6 537L243.6 537L267.6 537L267.6 502.2L267.6 467.3L267.6 432.5L267.6 397.7L267.6 362.8L267.6 328L243.6 328L219.6 328L195.5 328L171.4 328L147.4 328L123.3 328L99.3 328L75.2 328L60 328L58.3 332.7L57.5 362.8Z" fill="#008aff" fill-rule="evenodd"/>
<path d="M58.6 367.8L58.4 397.7L58.3 402.4L58 432.5L57.9 436.9L58.2 467.3L58.2 471.9L57.9 502.2L57.9 506.6L58.2 537L75.2 537L99.3 537L123.3 537L147.4 537L171.4 537L195.5 537L219.6 537L243.6 537L267.6 537L267.6 502.2L267.6 467.3L267.6 432.5L267.6 397.7L267.6 362.8L267.6 328L243.6 328L219.6 328L195.5 328L171.4 328L147.4 328L123.3 328L99.3 328L75.2 328L61.5 328L59.5 333.6L58.7 362.8Z" fill="#009fff" fill-rule="evenodd"/>
<path d="M59.9 368.8L59.6 397.7L59.6 403.4L59.2 432.5L59.2 437.9L59.4 467.3L59.4 472.9L59.2 502.2L59.2 507.5L59.5 537L75.2 537L99.3 537L123.3 537L147.4 537L171.4 537L195.5 537L219.6 537L243.6 537L267.6 537L267.6 502.2L267.6 467.3L267.6 432.5L267.6 397.7L267.6 362.8L267.6 328L243.6 328L219.6 328L195.5 328L171.4 328L147.4 328L123.3 328L99.3 328L75.2 328L62.9 328L60.7 334.6L60 362.8Z" fill="#00b5ff" fill-rule="evenodd"/>
<path d="M61.1 369.8L60.9 397.7L60.8 404.4L60.5 432.5L60.5 438.9L60.7 467.3L60.7 474L60.5 502.2L60.5 508.6L60.7 537L75.2 537L99.3 537L123.3 537L147.4 537L171.4 537L195.5 537L219.6 537L243.6 537L267.6 537L267.6 502.2L267.6 467.3L267.6 432.5L267.6 397.7L267.6 362.8L267.6 328L243.6 328L219.6 328L195.5 328L171.4 328L147.4 328L123.3 328L99.3 328L75.2 328L64.4 328L61.9 335.7L61.2 362.8Z" fill="#00caff" fill-rule="evenodd"/>
<path d="M62.3 371L62.1 397.7L62 405.5L61.7 432.5L61.7 440.1L61.9 467.3L61.9 475.1L61.7 502.2L61.7 509.7L62 537L75.2 537L99.3 537L123.3 537L147.4 537L171.4 537L195.5 537L219.6 537L243.6 537L267.6 537L267.6 502.2L267.6 467.3L267.6 432.5L267.6 397.7L267.6 362.8L267.6 328L243.6 328L219.6 328L195.5 328L171.4 328L147.4 328L123.3 328L99.3 328L75.2 328L65.9 328L63 336.9L62.5 362.8Z" fill="#00dfff" fill-rule="evenodd"/>
<path d="M63.5 372.2L63.4 397.7L63.3 406.8L63 432.5L63 441.3L63.1 467.3L63.2 476.3L63 502.2L63 510.9L63.2 537L75.2 537L99.3 537L123.3 537L147.4 537L171.4 537L195.5 537L219.6 537L243.6 537L267.6 537L267.6 502.2L267.6 467.3L267.6 432.5L267.6 397.7L267.6 362.8L267.6 328L243.6 328L219.6 328L195.5 328L171.4 328L147.4 328L123.3 328L99.3 328L75.2 328L67.3 328L64.2 338.1L63.7 362.8Z" fill="#00f4ff" fill-rule="evenodd"/>
<path d="M64.8 373.6L64.6 397.7L64.5 408.1L64.3 432.5L64.2 442.6L64.4 467.3L64.4 477.6L64.2 502.2L64.2 512.3L64.4 537L75.2 537L99.3 537L123.3 537L147.4 537L171.4 537L195.5 537L219.6 537L243.6 537L267.6 537L267.6 502.2L267.6 467.3L267.6 432.5L267.6 397.7L267.6 362.8L267.6 328L243.6 328L219.6 328L195.5 328L171.4 328L147.4 328L123.3 328L99.3 328L75.2 328L68.8 328L65.4 339.5L64.9 362.8Z" fill="#00fff4" fill-rule="evenodd"/>
<path d="M66 375L65.8 397.7L65.7 409.5L65.5 432.5L65.5 444.1L65.6 467.3L65.7 479.1L65.5 502.2L65.5 513.7L65.7 537L75.2 537L99.3 537L123.3 537L147.4 537L171.4 537L195.5 537L219.6 537L243.6 537L267.6 537L267.6 502.2L267.6 467.3L267.6 432.5L267.6 397.7L267.6 362.8L267.6 328L243.6 328L219.6 328L195.5 328L171.4 328L147.4 328L123.3 328L99.3 328L75.2 328L70.2 328L66.6 341L66.2 362.8Z" fill="#00ffdf" fill-rule="evenodd"/>
<path d="M67.2 376.7L67.1 397.7L67 411.1L66.8 432.5L66.7 445.7L66.9 467.3L66.9 480.7L66.8 502.2L66.7 515.4L66.9 537L75.2 537L99.3 537L123.3 537L147.4 537L171.4 537L195.5 537L219.6 537L243.6 537L267.6 537L267.6 502.2L267.6 467.3L267.6 432.5L267.6 397.7L267.6 362.8L267.6 328L243.6 328L219.6 328L195.5 328L171.4 328L147.4 328L123.3 328L99.3 328L75.2 328L71.7 328L67.8 342.6L67.4 362.8Z" fill="#00ffca" fill-rule="evenodd"/>
<path d="M68.4 378.5L68.3 397.7L68.2 413L68 432.5L68 447.5L68.1 467.3L68.1 482.5L68 502.2L68 517.2L68.1 537L75.2 537L99.3 537L123.3 537L147.4 537L171.4 537L195.5 537L219.6 537L243.6 537L267.6 537L267.6 502.2L267.6 467.3L267.6 432.5L267.6 397.7L267.6 362.8L267.6 328L243.6 328L219.6 328L195.5 328L171.4 328L147.4 328L123.3 328L99.3 328L75.2 328L73.2 328L69 344.5L68.7 362.8Z" fill="#00ffb5" fill-rule="evenodd"/>
<path d="M69.7 380.6L69.6 397.7L69.4 415L69.3 432.5L69.3 449.5L69.3 467.3L69.4 484.6L69.3 502.2L69.3 519.2L69.4 537L75.2 537L99.3 537L123.3 537L147.4 537L171.4 537L195.5 537L219.6 537L243.6 537L267.6 537L267.6 502.2L267.6 467.3L267.6 432.5L267.6 397.7L267.6 362.8L267.6 328L243.6 328L219.6 328L195.5 328L171.4 328L147.4 328L123.3 328L99.3 328L75.2 328L74.7 328L70.1 346.6L69.9 362.8Z" fill="#00ff9f" fill-rule="evenodd"/>
<path d="M71.1 362.8L70.9 383L70.8 397.7L70.7 417.4L70.6 432.5L70.5 451.9L70.6 467.3L70.6 486.9L70.5 502.2L70.5 521.6L70.6 537L75.2 537L99.3 537L123.3 537L147.4 537L171.4 537L195.5 537L219.6 537L243.6 537L267.6 537L267.6 502.2L267.6 467.3L267.6 432.5L267.6 397.7L267.6 362.8L267.6 328L243.6 328L219.6 328L195.5 328L171.4 328L147.4 328L123.3 328L99.3 328L77.5 328L76.3 328.6L75.2 330.2L71.3 349.1Z" fill="#00ff8a" fill-rule="evenodd"/>
<path d="M72.4 362.8L72.1 385.9L72.1 397.7L71.9 420.2L71.8 432.5L71.8 454.7L71.8 467.3L71.8 489.8L71.8 502.2L71.8 524.4L71.8 537L75.2 537L99.3 537L123.3 537L147.4 537L171.4 537L195.5 537L219.6 537L243.6 537L267.6 537L267.6 502.2L267.6 467.3L267.6 432.5L267.6 397.7L267.6 362.8L267.6 328L243.6 328L219.6 328L195.5 328L171.4 328L147.4 328L123.3 328L99.3 328L81.3 328L78 329.6L75.2 334.9L72.5 352.1Z" fill="#00ff75" fill-rule="evenodd"/>
<path d="M73.6 362.8L73.3 389.5L73.3 397.7L73.1 423.7L73.1 432.5L73 458.2L73.1 467.3L73.1 493.2L73.1 502.2L73 527.9L73.1 537L75.2 537L99.3 537L123.3 537L147.4 537L171.4 537L195.5 537L219.6 537L243.6 537L267.6 537L267.6 502.2L267.6 467.3L267.6 432.5L267.6 397.7L267.6 362.8L267.6 328L243.6 328L219.6 328L195.5 328L171.4 328L147.4 328L123.3 328L99.3 328L85.2 328L79.8 330.8L75.2 341.7L73.7 355.8Z" fill="#00ff60" fill-rule="evenodd"/>
<path d="M74.8 362.8L74.6 394.2L74.5 397.7L74.4 428.2L74.3 432.5L74.3 462.7L74.3 467.3L74.3 497.7L74.3 502.2L74.3 532.4L74.3 537L75.2 537L99.3 537L123.3 537L147.4 537L171.4 537L195.5 537L219.6 537L243.6 537L267.6 537L267.6 502.2L267.6 467.3L267.6 432.5L267.6 397.7L267.6 362.8L267.6 328L243.6 328L219.6 328L195.5 328L171.4 328L147.4 328L123.3 328L99.3 328L89 328L81.5 332L75.2 354.4L74.9 360.8Z" fill="#00ff4a" fill-rule="evenodd"/>
<path d="M76.7 363.7L76.2 397.7L76.2 398.2L75.9 432.5L75.9 432.9L75.8 467.3L75.8 467.6L75.8 502.2L75.8 502.5L75.8 537L99.3 537L123.3 537L147.4 537L171.4 537L195.5 537L219.6 537L243.6 537L267.6 537L267.6 502.2L267.6 467.3L267.6 432.5L267.6 397.7L267.6 362.8L267.6 328L243.6 328L219.6 328L195.5 328L171.4 328L147.4 328L123.3 328L99.3 328L92.9 328L83.2 333.4L76.9 362.8Z" fill="#00ff35" fill-rule="evenodd"/>
<path d="M78.9 365.1L78.5 397.7L78.4 399.5L78.1 432.5L78.1 434.2L78 467.3L78 468.9L78 502.2L78 503.8L78 537L99.3 537L123.3 537L147.4 537L171.4 537L195.5 537L219.6 537L243.6 537L267.6 537L267.6 502.2L267.6 467.3L267.6 432.5L267.6 397.7L267.6 362.8L267.6 328.5L243.9 328.2L243.6 328.2L227.7 328L219.6 328L195.5 328L171.4 328L147.4 328L123.3 328L99.3 328L96.7 328L85 334.8L79.3 362.8Z" fill="#00ff20" fill-rule="evenodd"/>
<path d="M81.7 362.8L81.1 366.6L80.7 397.7L80.5 401L80.3 432.5L80.2 435.6L80.2 467.3L80.2 470.4L80.2 502.2L80.2 505.3L80.2 537L99.3 537L123.3 537L147.4 537L171.4 537L195.5 537L219.6 537L243.6 537L267.6 537L267.6 502.2L267.6 467.3L267.6 432.5L267.6 397.7L267.6 362.8L267.6 329.2L245.2 328.9L243.6 328.9L220.6 328.6L219.6 328.6L196 328.3L195.5 328.3L176.9 328L171.4 328L147.4 328L123.3 328L117.1 328L99.9 328.4L99.3 328.6L86.7 336.5Z" fill="#00ff0b" fill-rule="evenodd"/>
<path d="M83.3 368.3L83 397.7L82.7 402.6L82.5 432.5L82.4 437.2L82.4 467.3L82.4 472L82.4 502.2L82.4 506.9L82.4 537L99.3 537L123.3 537L147.4 537L171.4 537L195.5 537L219.6 537L243.6 537L267.6 537L267.6 502.2L267.6 467.3L267.6 432.5L267.6 397.7L267.6 362.8L267.6 330L246.4 329.7L243.6 329.7L221.9 329.4L219.6 329.4L197.3 329L195.5 329.1L172.7 328.7L171.4 328.7L148.4 328.6L147.4 328.6L124.7 328.8L123.3 329L101.8 329.5L99.3 330.6L88.4 338.3L84.2 362.8Z" fill="#0bff00" fill-rule="evenodd"/>
<path d="M85.5 370.2L85.2 397.7L84.9 404.4L84.7 432.5L84.6 439L84.6 467.3L84.6 473.8L84.6 502.2L84.6 508.7L84.6 537L99.3 537L123.3 537L147.4 537L171.4 537L195.5 537L219.6 537L243.6 537L267.6 537L267.6 502.2L267.6 467.3L267.6 432.5L267.6 397.7L267.6 362.8L267.6 330.8L247.7 330.5L243.6 330.5L223.2 330.2L219.6 330.2L198.6 329.9L195.5 329.9L174 329.5L171.4 329.6L149.8 329.4L147.4 329.6L126.3 329.8L123.3 330.3L103.7 330.7L99.3 332.9L90.2 340.4L86.6 362.8Z" fill="#20ff00" fill-rule="evenodd"/>
<path d="M87.7 372.3L87.5 397.7L87 406.5L86.9 432.5L86.8 441.1L86.8 467.3L86.8 475.9L86.8 502.2L86.8 510.7L86.8 537L99.3 537L123.3 537L147.4 537L171.4 537L195.5 537L219.6 537L243.6 537L267.6 537L267.6 502.2L267.6 467.3L267.6 432.5L267.6 397.7L267.6 362.8L267.6 331.6L248.9 331.4L243.6 331.4L224.5 331.1L219.6 331.1L199.9 330.7L195.5 330.7L175.4 330.4L171.4 330.5L151.2 330.3L147.4 330.6L127.8 330.8L123.3 331.6L105.6 332.1L99.3 335.6L91.9 342.8L89 362.8Z" fill="#35ff00" fill-rule="evenodd"/>
<path d="M89.9 374.9L89.7 397.7L89.2 408.8L89 432.5L89 443.4L89 467.3L89 478.2L89 502.2L89 513.1L89 537L99.3 537L123.3 537L147.4 537L171.4 537L195.5 537L219.6 537L243.6 537L267.6 537L267.6 502.2L267.6 467.3L267.6 432.5L267.6 397.7L267.6 362.8L267.6 332.5L250.2 332.3L243.6 332.3L225.7 332L219.6 332L201.2 331.6L195.5 331.7L176.7 331.3L171.4 331.4L152.6 331.3L147.4 331.7L129.4 331.9L123.3 333.1L107.5 333.6L99.3 338.9L93.7 345.6L91.4 362.8Z" fill="#4aff00" fill-rule="evenodd"/>
<path d="M92.1 377.9L92 397.7L91.4 411.6L91.2 432.5L91.2 446.2L91.2 467.3L91.2 481L91.2 502.2L91.2 515.9L91.2 537L99.3 537L123.3 537L147.4 537L171.4 537L195.5 537L219.6 537L243.6 537L267.6 537L267.6 502.2L267.6 467.3L267.6 432.5L267.6 397.7L267.6 362.8L267.6 333.5L251.4 333.2L243.6 333.2L227 332.9L219.6 332.9L202.5 332.6L195.5 332.6L178.1 332.3L171.4 332.5L154 332.3L147.4 332.9L130.9 333.1L123.3 334.8L109.5 335.2L99.3 343.1L95.4 349.2L93.8 362.8Z" fill="#60ff00" fill-rule="evenodd"/>
<path d="M94.3 381.7L94.2 397.7L93.5 415.1L93.5 432.5L93.4 449.7L93.3 467.3L93.4 484.5L93.4 502.2L93.4 519.3L93.4 537L99.3 537L123.3 537L147.4 537L171.4 537L195.5 537L219.6 537L243.6 537L267.6 537L267.6 502.2L267.6 467.3L267.6 432.5L267.6 397.7L267.6 362.8L267.6 334.5L252.7 334.3L243.6 334.3L228.3 334L219.6 334L203.8 333.6L195.5 333.7L179.4 333.4L171.4 333.6L155.4 333.4L147.4 334.2L132.5 334.3L123.3 336.6L111.4 337.1L99.3 349L97.1 353.8L96.3 362.8Z" fill="#75ff00" fill-rule="evenodd"/>
<path d="M96.5 386.8L96.4 397.7L95.7 419.6L95.7 432.5L95.6 454.1L95.5 467.3L95.6 488.9L95.6 502.2L95.6 523.8L95.6 537L99.3 537L123.3 537L147.4 537L171.4 537L195.5 537L219.6 537L243.6 537L267.6 537L267.6 502.2L267.6 467.3L267.6 432.5L267.6 397.7L267.6 362.8L267.6 335.6L253.9 335.4L243.6 335.4L229.6 335.1L219.6 335.1L205.1 334.8L195.5 334.8L180.8 334.5L171.4 334.8L156.9 334.6L147.4 335.6L134.1 335.7L123.3 338.8L113.3 339.2L99.3 358.8L98.9 360.5L98.7 362.8Z" fill="#8aff00" fill-rule="evenodd"/>
<path d="M98.7 394.6L98.7 397.7L97.9 426L97.8 432.5L97.8 460.4L97.8 467.3L97.8 495.3L97.8 502.2L97.8 530.1L97.8 537L99.3 537L123.3 537L147.4 537L171.4 537L195.5 537L219.6 537L243.6 537L267.6 537L267.6 502.2L267.6 467.3L267.6 432.5L267.6 397.7L267.6 362.8L267.6 336.8L255.2 336.6L243.6 336.6L230.8 336.3L219.6 336.3L206.4 336L195.5 336L182.1 335.7L171.4 336L158.3 335.9L147.4 337.1L135.6 337.3L123.3 341.2L115.2 341.6L102.9 362.8L101.8 364.3L99.3 379Z" fill="#9fff00" fill-rule="evenodd"/>
<path d="M105 366.5L102.1 397.7L102 399.3L100.6 432.5L100.6 433.3L100.5 467.3L100.5 468L100.5 502.2L100.5 502.9L100.5 537L123.3 537L147.4 537L171.4 537L195.5 537L219.6 537L243.6 537L267.6 537L267.6 502.2L267.6 467.3L267.6 432.5L267.6 397.7L267.6 362.8L267.6 338.1L256.4 337.9L243.6 337.9L232.1 337.6L219.6 337.6L207.7 337.3L195.5 337.4L183.5 337L171.4 337.4L159.7 337.3L147.4 338.9L137.2 339L123.3 344.2L117.1 344.6L107.6 362.8Z" fill="#b5ff00" fill-rule="evenodd"/>
<path d="M108.3 369.1L105.9 397.7L105.7 401.8L104.6 432.5L104.6 435.9L104.5 467.3L104.5 470.6L104.5 502.2L104.5 505.5L104.5 537L123.3 537L147.4 537L171.4 537L195.5 537L219.6 537L243.6 537L267.6 537L267.6 502.2L267.6 467.3L267.6 432.5L267.6 397.7L267.6 362.8L267.6 339.5L257.6 339.3L243.6 339.3L233.4 339L219.6 339L209.1 338.7L195.5 338.8L184.8 338.5L171.4 339L161.1 338.9L147.4 340.8L138.7 340.9L123.3 347.8L119 348.2L112.4 362.8Z" fill="#caff00" fill-rule="evenodd"/>
<path d="M111.6 372.2L109.7 397.7L109.5 404.9L108.6 432.5L108.6 439L108.5 467.3L108.5 473.8L108.6 502.2L108.5 508.6L108.5 537L123.3 537L147.4 537L171.4 537L195.5 537L219.6 537L243.6 537L267.6 537L267.6 502.2L267.6 467.3L267.6 432.5L267.6 397.7L267.6 362.8L267.6 341.1L258.9 340.8L243.6 340.9L234.7 340.6L219.6 340.6L210.3 340.3L195.5 340.4L186.2 340.1L171.4 340.7L162.5 340.6L147.4 343L140.3 343.2L123.3 352.7L120.9 352.9L117.2 362.8Z" fill="#dfff00" fill-rule="evenodd"/>
<path d="M114.9 376.1L113.5 397.7L113.2 408.8L112.5 432.5L112.6 442.9L112.5 467.3L112.6 477.7L112.6 502.2L112.6 512.5L112.5 537L123.3 537L147.4 537L171.4 537L195.5 537L219.6 537L243.6 537L267.6 537L267.6 502.2L267.6 467.3L267.6 432.5L267.6 397.7L267.6 362.8L267.6 342.8L260.1 342.6L243.6 342.6L235.9 342.4L219.6 342.3L211.7 342L195.5 342.2L187.5 341.9L171.4 342.7L163.9 342.6L147.4 345.7L141.8 345.8L123.3 359.9L122.8 360L122 362.8Z" fill="#f4ff00" fill-rule="evenodd"/>
<path d="M118.2 381.4L117.4 397.7L116.9 414L116.5 432.5L116.6 448.3L116.6 467.3L116.6 483.1L116.6 502.2L116.6 517.9L116.6 537L123.3 537L147.4 537L171.4 537L195.5 537L219.6 537L243.6 537L267.6 537L267.6 502.2L267.6 467.3L267.6 432.5L267.6 397.7L267.6 362.8L267.6 344.8L261.4 344.6L243.6 344.6L237.2 344.4L219.6 344.3L213 344L195.5 344.2L188.9 344L171.4 344.9L165.3 344.8L147.4 348.8L143.4 348.9L128.5 362.8L126.2 364.6L123.3 367.8Z" fill="#fff400" fill-rule="evenodd"/>
<path d="M121.5 389.7L121.2 397.7L120.7 422L120.5 432.5L120.6 456.6L120.6 467.3L120.6 491.5L120.6 502.2L120.6 526.3L120.6 537L123.3 537L147.4 537L171.4 537L195.5 537L219.6 537L243.6 537L267.6 537L267.6 502.2L267.6 467.3L267.6 432.5L267.6 397.7L267.6 362.8L267.6 347L262.6 346.8L243.6 346.9L238.5 346.6L219.6 346.6L214.3 346.4L195.5 346.6L190.2 346.4L171.4 347.6L166.8 347.5L147.4 352.9L144.9 353L135.8 362.8L130.3 367.4L123.3 379.9Z" fill="#ffdf00" fill-rule="evenodd"/>
<path d="M134.3 370.9L126.2 397.7L126.1 399.3L125.2 432.5L125.1 433.5L125.3 467.3L125.3 468.5L125.3 502.2L125.3 503.3L125.3 537L147.4 537L171.4 537L195.5 537L219.6 537L243.6 537L267.6 537L267.6 502.2L267.6 467.3L267.6 432.5L267.6 397.7L267.6 362.8L267.6 349.6L263.9 349.5L243.6 349.6L239.8 349.4L219.6 349.3L215.6 349.1L195.5 349.4L191.6 349.2L171.4 350.8L168.2 350.7L147.4 358.4L146.5 358.4L143.1 362.8Z" fill="#ffca00" fill-rule="evenodd"/>
<path d="M149.5 364.1L147.4 365.2L138.4 375.4L132.8 397.7L132.3 403.8L131.6 432.5L131.4 437.9L131.5 467.3L131.5 472.8L131.5 502.2L131.5 507.7L131.5 537L147.4 537L171.4 537L195.5 537L219.6 537L243.6 537L267.6 537L267.6 502.2L267.6 467.3L267.6 432.5L267.6 397.7L267.6 362.8L267.6 352.9L265.1 352.7L243.6 352.8L241 352.6L219.6 352.6L216.9 352.4L195.5 352.8L192.9 352.6L171.4 354.9L169.6 354.8L153.1 362.8Z" fill="#ffb500" fill-rule="evenodd"/>
<path d="M154.6 367.6L147.4 372.9L142.5 381.8L139.4 397.7L138.4 410.3L138.1 432.5L137.7 444.1L137.8 467.3L137.7 479L137.7 502.2L137.7 513.9L137.7 537L147.4 537L171.4 537L195.5 537L219.6 537L243.6 537L267.6 537L267.6 502.2L267.6 467.3L267.6 432.5L267.6 397.7L267.6 362.8L267.6 356.9L266.4 356.8L243.6 357L242.3 356.9L219.6 356.8L218.2 356.6L195.5 357.3L194.3 357.1L171.4 360.4L171 360.4L166.9 362.8Z" fill="#ff9f00" fill-rule="evenodd"/>
<path d="M144.6 421.8L144.5 432.5L144 454.9L144 467.3L143.9 489.6L143.9 502.2L143.9 524.4L143.9 537L147.4 537L171.4 537L195.5 537L219.6 537L243.6 537L267.6 537L267.6 502.2L267.6 467.3L267.6 432.5L267.6 397.7L267.6 362.8L267.6 362.5L267.6 362.5L243.6 362.7L243.6 362.7L219.6 362.6L219.5 362.6L213.6 362.8L196.1 363.2L195.5 363.2L175.5 365.3L171.4 366.3L159.7 372.2L147.4 389.3L146.5 393.4L146 397.7Z" fill="#ff8a00" fill-rule="evenodd"/>
<path d="M156.5 397.7L154.8 402.5L153.1 432.5L152.8 435.9L152.1 467.3L152.1 470.2L151.9 502.2L151.9 505L151.9 537L171.4 537L195.5 537L219.6 537L243.6 537L267.6 537L267.6 502.2L267.6 467.3L267.6 432.5L267.6 397.7L267.6 365.9L248.6 366L243.6 366.2L224.8 366.2L219.6 366.6L201.9 367L195.5 368L181.5 370L171.4 373.5L164.8 378.8Z" fill="#ff7500" fill-rule="evenodd"/>
<path d="M168 397.7L164.1 412.6L163.4 432.5L162.6 445.3L162.3 467.3L162.2 479.6L162.2 502.2L162.2 514.4L162.2 537L171.4 537L195.5 537L219.6 537L243.6 537L267.6 537L267.6 502.2L267.6 467.3L267.6 432.5L267.6 397.7L267.6 370L253.7 370.1L243.6 370.6L230.3 370.6L219.6 371.8L207.8 372.2L195.5 375L187.6 376.8L171.4 387.9L169.9 390.9Z" fill="#ff6000" fill-rule="evenodd"/>
<path d="M188.1 397.7L180 403.5L175 432.5L174.7 434.4L173 467.3L173 468.2L172.9 502.2L172.9 503L173 537L195.5 537L219.6 537L243.6 537L267.6 537L267.6 502.2L267.6 467.3L267.6 432.5L267.6 397.7L267.6 375.6L258.9 375.6L243.6 376.9L235.7 376.9L219.6 379.7L213.7 380.1L195.5 388.6L193.6 389.6Z" fill="#ff4a00" fill-rule="evenodd"/>
<path d="M195.5 413.5L192.3 420.5L191.2 432.5L189.2 448.9L188.7 467.3L188.6 482.9L188.6 502.2L188.6 517.6L188.6 537L195.5 537L219.6 537L243.6 537L267.6 537L267.6 502.2L267.6 467.3L267.6 432.5L267.6 397.7L267.6 384.5L264 384.6L243.6 388L241.2 387.9L219.6 397.5L219.5 397.5L219.4 397.7L203.6 403.1Z" fill="#ff3500" fill-rule="evenodd"/>
<path d="M215.3 418.2L211.7 432.5L209.1 443.3L207.5 467.3L207.8 476.6L207.8 502.2L207.8 511.5L207.7 537L219.6 537L243.6 537L267.6 537L267.6 502.2L267.6 467.3L267.6 432.5L267.6 399.5L249 401.1L243.6 402.7L230.4 405.5L219.6 414.1Z" fill="#ff2000" fill-rule="evenodd"/>
<path d="M234.3 444.6L232 467.3L231.6 476.4L231.9 502.2L232.3 512L232.3 537L243.6 537L267.6 537L267.6 502.2L267.6 467.3L267.6 432.5L267.6 408.7L258.6 410.1L243.6 421.2L241.2 422.9L237.5 432.5Z" fill="#ff0000" fill-rule="evenodd"/>
<path d="M57 537L56.7 505.6L56.7 502.2L57 471L57 467.3L56.7 436L56.7 432.5L57.1 401.4L57.1 397.7L57.4 366.8L57.5 362.8L58.3 332.7L60 328M64.4 537L64.2 512.3L64.2 502.2L64.4 477.6L64.4 467.3L64.2 442.6L64.3 432.5L64.5 408.1L64.6 397.7L64.8 373.6L64.9 362.8L65.4 339.5L68.8 328M81.3 328L78 329.6L75.2 334.9L72.5 352.1L72.4 362.8L72.1 385.9L72.1 397.7L71.9 420.2L71.8 432.5L71.8 454.7L71.8 467.3L71.8 489.8L71.8 502.2L71.8 524.4L71.8 537M267.6 330L246.4 329.7L243.6 329.7L221.9 329.4L219.6 329.4L197.3 329L195.5 329.1L172.7 328.7L171.4 328.7L148.4 328.6L147.4 328.6L124.7 328.8L123.3 329L101.8 329.5L99.3 330.6L88.4 338.3L84.2 362.8L83.3 368.3L83 397.7L82.7 402.6L82.5 432.5L82.4 437.2L82.4 467.3L82.4 472L82.4 502.2L82.4 506.9L82.4 537M267.6 335.6L253.9 335.4L243.6 335.4L229.6 335.1L219.6 335.1L205.1 334.8L195.5 334.8L180.8 334.5L171.4 334.8L156.9 334.6L147.4 335.6L134.1 335.7L123.3 338.8L113.3 339.2L99.3 358.8L98.9 360.5L98.7 362.8L96.5 386.8L96.4 397.7L95.7 419.6L95.7 432.5L95.6 454.1L95.5 467.3L95.6 488.9L95.6 502.2L95.6 523.8L95.6 537M267.6 344.8L261.4 344.6L243.6 344.6L237.2 344.4L219.6 344.3L213 344L195.5 344.2L188.9 344L171.4 344.9L165.3 344.8L147.4 348.8L143.4 348.9L128.5 362.8L126.2 364.6L123.3 367.8L118.2 381.4L117.4 397.7L116.9 414L116.5 432.5L116.6 448.3L116.6 467.3L116.6 483.1L116.6 502.2L116.6 517.9L116.6 537M267.6 365.9L248.6 366L243.6 366.2L224.8 366.2L219.6 366.6L201.9 367L195.5 368L181.5 370L171.4 373.5L164.8 378.8L156.5 397.7L154.8 402.5L153.1 432.5L152.8 435.9L152.1 467.3L152.1 470.2L151.9 502.2L151.9 505L151.9 537" fill="none" stroke-linejoin="round" stroke="#000" stroke-opacity="0.38" stroke-width="0.5"/>
<rect x="269.0" y="328.00" width="16.6" height="209.00" fill="#ff0000"/>
<rect x="269.0" y="332.35" width="16.6" height="204.65" fill="#ff2000"/>
<rect x="269.0" y="336.71" width="16.6" height="200.29" fill="#ff3500"/>
<rect x="269.0" y="341.06" width="16.6" height="195.94" fill="#ff4a00"/>
<rect x="269.0" y="345.42" width="16.6" height="191.58" fill="#ff6000"/>
<rect x="269.0" y="349.77" width="16.6" height="187.23" fill="#ff7500"/>
<rect x="269.0" y="354.12" width="16.6" height="182.88" fill="#ff8a00"/>
<rect x="269.0" y="358.48" width="16.6" height="178.52" fill="#ff9f00"/>
<rect x="269.0" y="362.83" width="16.6" height="174.17" fill="#ffb500"/>
<rect x="269.0" y="367.19" width="16.6" height="169.81" fill="#ffca00"/>
<rect x="269.0" y="371.54" width="16.6" height="165.46" fill="#ffdf00"/>
<rect x="269.0" y="375.90" width="16.6" height="161.10" fill="#fff400"/>
<rect x="269.0" y="380.25" width="16.6" height="156.75" fill="#f4ff00"/>
<rect x="269.0" y="384.60" width="16.6" height="152.40" fill="#dfff00"/>
<rect x="269.0" y="388.96" width="16.6" height="148.04" fill="#caff00"/>
<rect x="269.0" y="393.31" width="16.6" height="143.69" fill="#b5ff00"/>
<rect x="269.0" y="397.67" width="16.6" height="139.33" fill="#9fff00"/>
<rect x="269.0" y="402.02" width="16.6" height="134.98" fill="#8aff00"/>
<rect x="269.0" y="406.38" width="16.6" height="130.62" fill="#75ff00"/>
<rect x="269.0" y="410.73" width="16.6" height="126.27" fill="#60ff00"/>
<rect x="269.0" y="415.08" width="16.6" height="121.92" fill="#4aff00"/>
<rect x="269.0" y="419.44" width="16.6" height="117.56" fill="#35ff00"/>
<rect x="269.0" y="423.79" width="16.6" height="113.21" fill="#20ff00"/>
<rect x="269.0" y="428.15" width="16.6" height="108.85" fill="#0bff00"/>
<rect x="269.0" y="432.50" width="16.6" height="104.50" fill="#00ff0b"/>
<rect x="269.0" y="436.85" width="16.6" height="100.15" fill="#00ff20"/>
<rect x="269.0" y="441.21" width="16.6" height="95.79" fill="#00ff35"/>
<rect x="269.0" y="445.56" width="16.6" height="91.44" fill="#00ff4a"/>
<rect x="269.0" y="449.92" width="16.6" height="87.08" fill="#00ff60"/>
<rect x="269.0" y="454.27" width="16.6" height="82.73" fill="#00ff75"/>
<rect x="269.0" y="458.62" width="16.6" height="78.38" fill="#00ff8a"/>
<rect x="269.0" y="462.98" width="16.6" height="74.02" fill="#00ff9f"/>
<rect x="269.0" y="467.33" width="16.6" height="69.67" fill="#00ffb5"/>
<rect x="269.0" y="471.69" width="16.6" height="65.31" fill="#00ffca"/>
<rect x="269.0" y="476.04" width="16.6" height="60.96" fill="#00ffdf"/>
<rect x="269.0" y="480.40" width="16.6" height="56.60" fill="#00fff4"/>
<rect x="269.0" y="484.75" width="16.6" height="52.25" fill="#00f4ff"/>
<rect x="269.0" y="489.10" width="16.6" height="47.90" fill="#00dfff"/>
<rect x="269.0" y="493.46" width="16.6" height="43.54" fill="#00caff"/>
<rect x="269.0" y="497.81" width="16.6" height="39.19" fill="#00b5ff"/>
<rect x="269.0" y="502.17" width="16.6" height="34.83" fill="#009fff"/>
<rect x="269.0" y="506.52" width="16.6" height="30.48" fill="#008aff"/>
<rect x="269.0" y="510.88" width="16.6" height="26.12" fill="#0075ff"/>
<rect x="269.0" y="515.23" width="16.6" height="21.77" fill="#0060ff"/>
<rect x="269.0" y="519.58" width="16.6" height="17.42" fill="#004aff"/>
<rect x="269.0" y="523.94" width="16.6" height="13.06" fill="#0035ff"/>
<rect x="269.0" y="528.29" width="16.6" height="8.71" fill="#0020ff"/>
<rect x="269.0" y="532.65" width="16.6" height="4.35" fill="#000bff"/>
<rect x="267.15" y="327.25" width="2.75" height="210.50" fill="#1a1a1a"/>
<rect x="285.35" y="327.25" width="1.35" height="210.50" fill="#000"/>
<path d="M50.20 328.00H268.35M50.20 537.00H268.35M267.20 328.00H286.70M267.20 537.00H286.70M50.95 327.25V537.75M51.20 537.5v4M75.25 537.5v4M99.30 537.5v4M123.35 537.5v4M147.40 537.5v4M171.45 537.5v4M195.50 537.5v4M219.55 537.5v4M243.60 537.5v4M267.65 537.5v4M50.7 328.00h-3.4M50.7 362.83h-3.4M50.7 397.67h-3.4M50.7 432.50h-3.4M50.7 467.33h-3.4M50.7 502.17h-3.4M50.7 537.00h-3.4M286.5 328.00h3.2M286.5 354.12h3.2M286.5 380.25h3.2M286.5 406.38h3.2M286.5 432.50h3.2M286.5 458.62h3.2M286.5 484.75h3.2M286.5 510.88h3.2M286.5 537.00h3.2" stroke="#000" stroke-width="1.5" fill="none"/>
<text x="51.2" y="551.8" text-anchor="middle">0.1</text>
<text x="75.2" y="551.8" text-anchor="middle">0.2</text>
<text x="99.3" y="551.8" text-anchor="middle">0.3</text>
<text x="123.3" y="551.8" text-anchor="middle">0.4</text>
<text x="147.4" y="551.8" text-anchor="middle">0.5</text>
<text x="171.4" y="551.8" text-anchor="middle">0.6</text>
<text x="195.5" y="551.8" text-anchor="middle">0.7</text>
<text x="219.6" y="551.8" text-anchor="middle">0.8</text>
<text x="243.6" y="551.8" text-anchor="middle">0.9</text>
<text x="267.6" y="551.8" text-anchor="middle">1.0</text>
<text x="45.1" y="332.0" text-anchor="end" style="font-size:10.4px">10<tspan dx="-0.9" dy="-4.0" font-size="7.8">18</tspan></text>
<text x="45.1" y="366.8" text-anchor="end" style="font-size:10.4px">10<tspan dx="-0.9" dy="-4.0" font-size="7.8">17</tspan></text>
<text x="45.1" y="401.7" text-anchor="end" style="font-size:10.4px">10<tspan dx="-0.9" dy="-4.0" font-size="7.8">16</tspan></text>
<text x="45.1" y="436.5" text-anchor="end" style="font-size:10.4px">10<tspan dx="-0.9" dy="-4.0" font-size="7.8">15</tspan></text>
<text x="45.1" y="471.3" text-anchor="end" style="font-size:10.4px">10<tspan dx="-0.9" dy="-4.0" font-size="7.8">14</tspan></text>
<text x="45.1" y="506.2" text-anchor="end" style="font-size:10.4px">10<tspan dx="-0.9" dy="-4.0" font-size="7.8">13</tspan></text>
<text x="45.1" y="541.0" text-anchor="end" style="font-size:10.4px">10<tspan dx="-0.9" dy="-4.0" font-size="7.8">12</tspan></text>
<text x="293.6" y="331.3">30.85</text>
<text x="293.6" y="357.5">28.74</text>
<text x="293.6" y="383.7">26.63</text>
<text x="293.6" y="409.9">24.51</text>
<text x="293.6" y="436.1">22.40</text>
<text x="293.6" y="462.4">20.29</text>
<text x="293.6" y="488.6">18.18</text>
<text x="293.6" y="514.8">16.06</text>
<text x="293.6" y="541.0">13.95</text>
<text x="174.3" y="324.0" text-anchor="middle" style="font-size:10.8px">(c)</text>
<text x="277.7" y="319.1" text-anchor="middle" style="font-size:11px">J<tspan dy="2.4" font-size="7.4">SC</tspan><tspan dy="-2.4">(mA.cm</tspan><tspan dy="-4.3" font-size="7.4">-2</tspan><tspan dy="4.3">)</tspan></text>
<text x="166.0" y="566.8" text-anchor="middle" style="font-size:11.3px">Thickness (µm)</text>
<text transform="translate(18.5,431.8) rotate(-90)" text-anchor="middle" style="font-size:11.3px">N<tspan dy="2.2" font-size="7.4">t</tspan><tspan dy="-2.2"> (cm</tspan><tspan dy="-4.2" font-size="7.4">-3</tspan><tspan dy="4.2">)</tspan></text>

<rect x="407.0" y="325.0" width="223.7" height="214.5" fill="#000bff"/>
<path d="M407 360.8L407 396.5L407 432.2L407 468L407 503.8L407 539.5L431.8 539.5L456.6 539.5L481.4 539.5L506.2 539.5L531 539.5L555.8 539.5L580.6 539.5L596.5 539.5L593.5 513.6L591 503.8L600.8 488.4L605.4 483.4L619.4 479L630.2 477.7L630.2 468L630.2 432.2L630.2 396.5L630.2 360.8L630.2 325L605.4 325L580.6 325L555.8 325L531 325L506.2 325L481.4 325L456.6 325L431.8 325L407 325Z" fill="#0020ff" fill-rule="evenodd"/>
<path d="M407 396.5L407 432.2L407 468L407 503.8L407 539.5L431.8 539.5L456.6 539.5L481.4 539.5L506.2 539.5L531 539.5L555.8 539.5L569.5 539.5L571.5 516.9L569.7 503.8L574.2 485.1L580.6 477.5L589.1 473.8L603.1 468L604.9 465.3L605.4 465.2L628.5 460.7L630.2 458.6L630.2 432.2L630.2 396.5L630.2 364.8L610.7 364.1L605.4 362.9L585.7 360.8L604.6 356.8L605.4 357.1L629.3 356.3L630.2 355.5L630.2 325L605.4 325L580.6 325L555.8 325L531 325L506.2 325L481.4 325L456.6 325L431.8 325L407 325L407 360.8Z" fill="#0035ff" fill-rule="evenodd"/>
<path d="M407 360.8L407 396.5L407 432.2L407 468L407 503.8L407 539.5L431.8 539.5L456.6 539.5L481.4 539.5L506.2 539.5L531 539.5L550.8 539.5L551.2 524.3L554.4 503.8L554.6 498.2L555.8 494.6L565.1 474.4L575.5 468L578.6 459.5L580.6 458.5L598.1 447.9L605.4 447.2L621.7 446.1L630.2 442.1L630.2 432.2L630.2 396.5L630.2 389.1L628.4 388.8L605.4 374L594.4 371.6L580.6 366.2L557.6 361.8L555.8 361.4L553.7 360.8L555.3 358.2L555.8 358.4L578 350.6L580.6 350.5L601.9 348L605.4 348.7L626.8 348.3L630.2 346.7L630.2 325L605.4 325L580.6 325L555.8 325L531 325L506.2 325L481.4 325L456.6 325L431.8 325L407 325Z" fill="#004aff" fill-rule="evenodd"/>
<path d="M407 432.2L407 468L407 503.8L407 539.5L431.8 539.5L456.6 539.5L481.4 539.5L506.2 539.5L531 539.5L537.2 539.5L538.8 508.9L540 503.8L542.9 476.8L555.8 468.3L556 468.1L556.3 468L570.9 444.6L580.6 442.9L591.2 439.8L605.4 439.1L614.8 438.7L630.2 434.3L630.2 432.2L630.2 412.7L616.1 404.1L605.4 399L599.7 396.5L580.6 375.5L569.7 371.7L555.8 366.5L539.5 360.8L552 347.3L555.8 348.1L575.3 344.1L580.6 343.9L599.2 342.5L605.4 343.3L624.4 343.1L630.2 341.1L630.2 325L605.4 325L580.6 325L555.8 325L531 325L506.2 325L481.4 325L456.6 325L431.8 325L407 325L407 360.8L407 396.5Z" fill="#0060ff" fill-rule="evenodd"/>
<path d="M407 360.8L407 396.5L407 432.2L407 468L407 503.8L407 539.5L431.8 539.5L456.6 539.5L481.4 539.5L506.2 539.5L525.5 539.5L525.2 521.9L526.7 503.8L527.2 490.3L531 468.6L531.2 468.1L531.4 468L547.3 446.2L555.8 441.6L563.3 437.2L580.6 435.3L584.4 434.6L605.4 433.8L607.9 433.7L614.2 432.2L605.4 415.2L586.1 399.9L580.6 398.8L578.6 396.5L555.8 374.3L537.3 364.8L531 362.8L525.8 360.8L529.2 353L531 353.2L548.7 340.9L555.8 342L572.5 339.5L580.6 339.3L596.5 338.4L605.4 339.4L621.9 339.2L630.2 337L630.2 325L605.4 325L580.6 325L555.8 325L531 325L506.2 325L481.4 325L456.6 325L431.8 325L407 325Z" fill="#0075ff" fill-rule="evenodd"/>
<path d="M407 432.2L407 468L407 503.8L407 539.5L431.8 539.5L456.6 539.5L481.4 539.5L506.2 539.5L515.3 539.5L514.6 509.4L515.2 503.8L517.2 475.9L519.2 468L526.3 452.5L531 440.9L538.7 437.3L555.3 432.2L555.5 430.8L555.8 422.7L562.8 401L559.1 396.5L555.8 390.6L553.1 385.9L531 369.3L512.9 360.8L524.8 342.4L531 342.7L545.4 336.4L555.8 337.6L569.8 336L580.6 335.8L593.8 335.2L605.4 336.2L619.4 336.1L630.2 333.7L630.2 325L605.4 325L580.6 325L555.8 325L531 325L506.2 325L481.4 325L456.6 325L431.8 325L407 325L407 360.8L407 396.5Z" fill="#008aff" fill-rule="evenodd"/>
<path d="M407 468L407 503.8L407 539.5L431.8 539.5L456.6 539.5L481.4 539.5L505.5 539.5L505.5 536.1L504.9 503.8L505 498.1L506.2 473L507.1 468.5L507.3 468L521.5 444.9L530.1 432.2L530.3 428.5L531 417.9L540 402.6L541.2 396.5L531 380.9L517.5 369L506.2 362.4L503.1 360.8L503.6 350.6L506.2 348.5L520.3 336.1L531 336.5L542.1 333L555.8 334.2L567 333.1L580.6 332.9L591.1 332.5L605.4 333.5L617 333.4L630.2 331L630.2 325L605.4 325L580.6 325L555.8 325L531 325L506.2 325L481.4 325L456.6 325L431.8 325L407 325L407 360.8L407 396.5L407 432.2Z" fill="#009fff" fill-rule="evenodd"/>
<path d="M407 396.5L407 432.2L407 468L407 503.8L407 539.5L431.8 539.5L456.6 539.5L481.4 539.5L499.2 539.5L499.1 519.8L498.7 503.8L499.2 484.1L500.6 468L502.6 454.9L506.2 448L516.7 439.7L522.7 432.2L523.9 412.5L527.7 396.5L506.2 366.6L496.8 360.8L498.4 339.9L506.2 336.8L515.8 331.7L531 332.1L538.8 330.1L555.8 331.4L564.3 330.7L580.6 330.5L588.5 330.2L605.4 331.3L614.5 331.2L630.2 328.8L630.2 325L605.4 325L580.6 325L555.8 325L531 325L506.2 325L481.4 325L456.6 325L431.8 325L407 325L407 360.8Z" fill="#00b5ff" fill-rule="evenodd"/>
<path d="M407 396.5L407 432.2L407 468L407 503.8L407 539.5L431.8 539.5L456.6 539.5L481.4 539.5L492.9 539.5L492.8 512L492.5 503.8L493.4 476.9L494.4 468L498.5 447.3L506.2 438.9L512 435.9L515.2 432.2L517.6 404.8L520 396.5L506.2 372.2L490.5 360.8L493.1 333.6L506.2 330.2L511.4 328.2L531 328.7L535.4 327.7L555.8 329L561.5 328.6L580.6 328.4L585.8 328.2L605.4 329.3L612 329.3L630.2 326.8L630.2 325L605.4 325L580.6 325L555.8 325L531 325L506.2 325L481.4 325L456.6 325L431.8 325L407 325L407 360.8Z" fill="#00caff" fill-rule="evenodd"/>
<path d="M407 396.5L407 432.2L407 468L407 503.8L407 539.5L431.8 539.5L456.6 539.5L481.4 539.5L486.7 539.5L486.4 506.8L486.2 503.8L487.7 472L488.1 468L494.5 442.3L506.2 433.2L507.2 432.8L507.7 432.2L511.2 399.6L512.3 396.5L506.2 381.3L484.2 360.8L487.9 329.1L506.2 325.6L506.9 325.4L531 325.9L532.1 325.6L555.8 326.9L558.7 326.8L580.6 326.5L583.1 326.5L605.4 327.6L609.6 327.6L630.2 325L605.4 325L580.6 325L555.8 325L531 325L506.2 325L481.4 325L456.6 325L431.8 325L407 325L407 360.8Z" fill="#00dfff" fill-rule="evenodd"/>
<path d="M407 396.5L407 432.2L407 468L407 503.8L407 539.5L431.8 539.5L456.6 539.5L480.8 539.5L480.8 536.4L480.6 503.8L480.6 499.8L481.4 472.4L481.9 468.3L481.9 468L490.5 438.4L499.8 432.2L501.8 417.3L504.9 396.5L481.4 362.7L479.2 360.8L477.8 347.7L481.4 329.7L482.6 325.7L486.7 325L481.4 325L456.6 325L431.8 325L407 325L407 360.8ZM555.8 325.1L556 325.1L566.7 325L555.8 325L553.5 325ZM615.6 325L605.4 325L583.3 325L605.4 326L607.1 326Z" fill="#00f4ff" fill-rule="evenodd"/>
<path d="M407 432.2L407 468L407 503.8L407 539.5L431.8 539.5L456.6 539.5L477 539.5L477 524.7L476.8 503.8L477 488.9L477.9 468L478.6 457L481.4 443.6L486.4 435.4L491.6 432.2L496.1 408.4L498.4 396.5L481.4 367.1L475.2 360.8L471.2 336.7L475 325L456.6 325L431.8 325L407 325L407 360.8L407 396.5Z" fill="#00fff4" fill-rule="evenodd"/>
<path d="M407 432.2L407 468L407 503.8L407 539.5L431.8 539.5L456.6 539.5L473.3 539.5L473.2 518.1L473.1 503.8L473.4 482.6L474.2 468L475.5 450.2L481.4 434L482.4 432.8L483.5 432.2L490.5 402.8L491.9 396.5L481.4 373.1L471.2 360.8L464.6 330.3L466.7 325L456.6 325L431.8 325L407 325L407 360.8L407 396.5Z" fill="#00ffdf" fill-rule="evenodd"/>
<path d="M407 432.2L407 468L407 503.8L407 539.5L431.8 539.5L456.6 539.5L469.5 539.5L469.4 513.5L469.3 503.8L469.8 478.1L470.4 468L472.4 445.5L478.2 432.2L479.1 422.9L481.4 404.7L484.9 398.6L485.4 396.5L481.4 383.2L467.2 360.8L458 325.8L458.4 325L456.6 325L431.8 325L407 325L407 360.8L407 396.5Z" fill="#00ffca" fill-rule="evenodd"/>
<path d="M407 396.5L407 432.2L407 468L407 503.8L407 539.5L431.8 539.5L456.6 539.5L465.8 539.5L465.7 509.9L465.6 503.8L466.2 474.6L466.6 468L469.3 441.9L474 432.2L476 415.5L480 396.5L476.9 381.4L463.3 360.8L456.6 330.3L454.2 325L431.8 325L407 325L407 360.8Z" fill="#00ffb5" fill-rule="evenodd"/>
<path d="M407 396.5L407 432.2L407 468L407 503.8L407 539.5L431.8 539.5L456.6 539.5L462 539.5L461.9 507.1L461.8 503.8L462.6 471.8L462.9 468L466.2 438.9L469.8 432.2L472.9 410.5L476.3 396.5L464.8 366.2L459.3 360.8L456.6 341.5L451.3 325L431.8 325L407 325L407 360.8Z" fill="#00ff9f" fill-rule="evenodd"/>
<path d="M407 360.8L407 396.5L407 432.2L407 468L407 503.8L407 539.5L431.8 539.5L456.6 539.5L458.3 539.5L458.1 504.6L458.1 503.8L459 469.4L459.1 468L463.1 436.4L465.6 432.2L469.9 406.7L472.6 396.5L456.6 361.8L455.9 360.8L455.2 354.5L448.3 325L431.8 325L407 325Z" fill="#00ff8a" fill-rule="evenodd"/>
<path d="M407 325L407 360.8L407 396.5L407 432.2L407 468L407 503.8L407 539.5L431.8 539.5L455.4 539.5L455.3 533.7L455.2 503.8L455.3 497.8L455.9 468L455.9 464.7L456.6 450.6L460 434.3L461.3 432.2L466.8 403.7L468.9 396.5L456.6 365.4L453.7 360.8L451 343.5L445.3 325L431.8 325Z" fill="#00ff75" fill-rule="evenodd"/>
<path d="M407 325L407 360.8L407 396.5L407 432.2L407 468L407 503.8L407 539.5L431.8 539.5L453.1 539.5L453.1 526.8L453 503.8L453.1 491.1L453.6 468L454 457.7L456.6 433.4L457 432.4L457.1 432.2L463.7 401.1L465.2 396.5L456.6 370.1L451.5 360.8L446.8 337.2L442.3 325L431.8 325Z" fill="#00ff60" fill-rule="evenodd"/>
<path d="M407 325L407 360.8L407 396.5L407 432.2L407 468L407 503.8L407 539.5L431.8 539.5L450.9 539.5L450.8 522L450.8 503.8L451 486.5L451.4 468L452 452.9L454.6 432.2L454.9 424.9L456.6 408.5L460.6 399L461.5 396.5L456.6 376.9L449.3 360.8L442.5 332.7L439.4 325L431.8 325Z" fill="#00ff4a" fill-rule="evenodd"/>
<path d="M407 325L407 360.8L407 396.5L407 432.2L407 468L407 503.8L407 539.5L431.8 539.5L448.7 539.5L448.6 518.3L448.5 503.8L448.8 482.9L449.2 468L450.1 449.2L452.4 432.2L453 419.3L456.6 398.6L457.6 397.1L457.8 396.5L456.6 389.2L447.1 360.8L438.3 329.2L436.4 325L431.8 325Z" fill="#00ff35" fill-rule="evenodd"/>
<path d="M407 396.5L407 432.2L407 468L407 503.8L407 539.5L431.8 539.5L446.5 539.5L446.3 515.4L446.3 503.8L446.7 480L447 468L448.1 446.2L450.2 432.2L451.1 415.3L455 396.5L454 386.3L444.9 360.8L434.1 326.3L433.4 325L431.8 325L407 325L407 360.8Z" fill="#00ff20" fill-rule="evenodd"/>
<path d="M407 360.8L407 396.5L407 432.2L407 468L407 503.8L407 539.5L431.8 539.5L444.2 539.5L444.1 512.9L444 503.8L444.5 477.6L444.8 468L446.2 443.7L448 432.2L449.2 412.1L452.8 396.5L450.3 378.1L442.7 360.8L431.8 326.2L431.1 325L407 325Z" fill="#00ff0b" fill-rule="evenodd"/>
<path d="M407 360.8L407 396.5L407 432.2L407 468L407 503.8L407 539.5L431.8 539.5L442 539.5L441.8 510.8L441.8 503.8L442.4 475.5L442.6 468L444.2 441.6L445.8 432.2L447.3 409.4L450.5 396.5L446.6 372.7L440.5 360.8L431.8 329.3L429.8 325L407 325Z" fill="#0bff00" fill-rule="evenodd"/>
<path d="M407 360.8L407 396.5L407 432.2L407 468L407 503.8L407 539.5L431.8 539.5L439.8 539.5L439.6 508.9L439.6 503.8L440.2 473.6L440.4 468L442.3 439.7L443.6 432.2L445.4 407.1L448.2 396.5L442.9 368.7L438.3 360.8L431.8 333.1L428.4 325L407 325Z" fill="#20ff00" fill-rule="evenodd"/>
<path d="M407 360.8L407 396.5L407 432.2L407 468L407 503.8L407 539.5L431.8 539.5L437.6 539.5L437.3 507.2L437.3 503.8L438 472L438.2 468L440.3 438L441.4 432.2L443.6 405.1L445.9 396.5L439.1 365.6L436.1 360.8L431.8 338.2L427 325L407 325Z" fill="#35ff00" fill-rule="evenodd"/>
<path d="M407 360.8L407 396.5L407 432.2L407 468L407 503.8L407 539.5L431.8 539.5L435.3 539.5L435.1 505.7L435.1 503.8L435.9 470.5L436 468L438.4 436.5L439.2 432.2L441.7 403.4L443.6 396.5L435.4 362.9L433.9 360.8L431.8 345.9L425.6 325L407 325Z" fill="#4aff00" fill-rule="evenodd"/>
<path d="M407 432.2L407 468L407 503.8L407 539.5L431.8 539.5L433.1 539.5L432.8 504.4L432.8 503.8L433.7 469.1L433.8 468L436.4 435.1L437 432.2L439.8 401.8L441.4 396.5L431.8 360.9L431.8 360.8L431.7 360.4L424.2 325L407 325L407 360.8L407 396.5Z" fill="#60ff00" fill-rule="evenodd"/>
<path d="M429.7 352.1L422.8 325L407 325L407 360.8L407 396.5L407 432.2L407 468L407 503.8L407 539.5L431.2 539.5L431.2 536.3L431 503.8L431 499.8L431.6 468L431.6 467.1L431.8 459.8L434.5 433.8L434.8 432.2L437.9 400.4L439.1 396.5L431.8 364.6L430.4 360.8Z" fill="#75ff00" fill-rule="evenodd"/>
<path d="M427.7 346.7L421.4 325L407 325L407 360.8L407 396.5L407 432.2L407 468L407 503.8L407 539.5L429.6 539.5L429.6 530.5L429.4 503.8L429.5 494.3L430.1 468L430.2 460.9L431.8 436.2L432.5 432.7L432.6 432.2L436 399.1L436.8 396.5L431.8 369.5L429 360.8Z" fill="#8aff00" fill-rule="evenodd"/>
<path d="M425.7 342.6L420 325L407 325L407 360.8L407 396.5L407 432.2L407 468L407 503.8L407 539.5L428.1 539.5L428.1 526.2L427.9 503.8L428 490.3L428.6 468L428.8 456.5L430.8 432.2L430.9 427.9L431.8 410.3L434.1 397.8L434.5 396.5L431.8 376.8L427.6 360.8Z" fill="#9fff00" fill-rule="evenodd"/>
<path d="M423.7 339.5L418.6 325L407 325L407 360.8L407 396.5L407 432.2L407 468L407 503.8L407 539.5L426.6 539.5L426.5 522.9L426.4 503.8L426.5 487.1L427 468L427.4 453.1L429.3 432.2L429.5 422.8L431.8 398.1L432.2 396.7L432.3 396.5L431.8 391L426.3 360.8Z" fill="#b5ff00" fill-rule="evenodd"/>
<path d="M421.7 336.8L417.2 325L407 325L407 360.8L407 396.5L407 432.2L407 468L407 503.8L407 539.5L425 539.5L425 520.2L424.8 503.8L425 484.5L425.5 468L425.9 450.3L427.7 432.2L428.1 418.9L430.5 396.5L430.4 390L424.9 360.8Z" fill="#caff00" fill-rule="evenodd"/>
<path d="M419.7 334.6L415.8 325L407 325L407 360.8L407 396.5L407 432.2L407 468L407 503.8L407 539.5L423.5 539.5L423.4 517.9L423.3 503.8L423.5 482.2L423.9 468L424.5 447.9L426.1 432.2L426.6 415.9L428.9 396.5L428.6 384.5L423.5 360.8Z" fill="#dfff00" fill-rule="evenodd"/>
<path d="M417.7 332.6L414.4 325L407 325L407 360.8L407 396.5L407 432.2L407 468L407 503.8L407 539.5L421.9 539.5L421.9 515.8L421.8 503.8L422 480.2L422.4 468L423.1 445.9L424.6 432.2L425.2 413.3L427.4 396.5L426.8 380.4L422.2 360.8Z" fill="#f4ff00" fill-rule="evenodd"/>
<path d="M415.7 330.9L413 325L407 325L407 360.8L407 396.5L407 432.2L407 468L407 503.8L407 539.5L420.4 539.5L420.4 514L420.2 503.8L420.5 478.5L420.9 468L421.7 444.1L423 432.2L423.8 411.1L425.8 396.5L425 377.2L420.8 360.8Z" fill="#fff400" fill-rule="evenodd"/>
<path d="M413.7 329.3L411.6 325L407 325L407 360.8L407 396.5L407 432.2L407 468L407 503.8L407 539.5L418.9 539.5L418.8 512.4L418.7 503.8L419 476.9L419.4 468L420.2 442.4L421.5 432.2L422.4 409.2L424.2 396.5L423.2 374.5L419.4 360.8Z" fill="#ffdf00" fill-rule="evenodd"/>
<path d="M411.7 327.9L410.2 325L407 325L407 360.8L407 396.5L407 432.2L407 468L407 503.8L407 539.5L417.3 539.5L417.3 511L417.2 503.8L417.5 475.5L417.8 468L418.8 441L419.9 432.2L421 407.5L422.6 396.5L421.4 372.2L418 360.8Z" fill="#ffca00" fill-rule="evenodd"/>
<path d="M409.6 326.6L408.8 325L407 325L407 360.8L407 396.5L407 432.2L407 468L407 503.8L407 539.5L415.8 539.5L415.7 509.6L415.6 503.8L416 474.2L416.3 468L417.4 439.6L418.4 432.2L419.5 405.9L421 396.5L419.6 370.3L416.7 360.8Z" fill="#ffb500" fill-rule="evenodd"/>
<path d="M407.6 325.4L407.4 325L407 325L407 360.8L407 396.5L407 432.2L407 468L407 503.8L407 539.5L414.2 539.5L414.2 508.4L414.1 503.8L414.6 473L414.8 468L416 438.4L416.8 432.2L418.1 404.5L419.4 396.5L417.8 368.5L415.3 360.8Z" fill="#ff9f00" fill-rule="evenodd"/>
<path d="M407 360.8L407 396.5L407 432.2L407 468L407 503.8L407 539.5L412.7 539.5L412.6 507.3L412.6 503.8L413.1 471.9L413.2 468L414.6 437.2L415.3 432.2L416.7 403.2L417.8 396.5L416.1 366.9L413.9 360.8L407 326.8Z" fill="#ff8a00" fill-rule="evenodd"/>
<path d="M407 360.8L407 396.5L407 432.2L407 468L407 503.8L407 539.5L411.1 539.5L411.1 506.2L411.1 503.8L411.6 470.8L411.7 468L413.1 436.2L413.7 432.2L415.3 402.1L416.2 396.5L414.3 365.5L412.6 360.8L407 329.8Z" fill="#ff7500" fill-rule="evenodd"/>
<path d="M407 360.8L407 396.5L407 432.2L407 468L407 503.8L407 539.5L409.6 539.5L409.5 505.2L409.5 503.8L410.1 469.8L410.1 468L411.7 435.2L412.2 432.2L413.9 400.9L414.7 396.5L412.5 364.2L411.2 360.8L407 333.5Z" fill="#ff6000" fill-rule="evenodd"/>
<path d="M407 360.8L407 396.5L407 432.2L407 468L407 503.8L407 539.5L408.1 539.5L408 504.3L408 503.8L408.6 468.9L408.6 468L410.3 434.2L410.6 432.2L412.4 399.9L413.1 396.5L410.7 363L409.8 360.8L407 338.4Z" fill="#ff4a00" fill-rule="evenodd"/>
<path d="M407 396.5L407 432.2L407 468L407 469.8L407.1 468L407.1 468L408.9 433.3L409 432.2L411 398.9L411.5 396.5L408.9 361.9L408.4 360.8L407 345.6L407 360.8Z" fill="#ff3500" fill-rule="evenodd"/>
<path d="M407 360.8L407 396.5L407 432.2L407 436.2L407.4 432.5L407.5 432.2L409.6 398L409.9 396.5L407.1 360.8L407.1 360.8L407 359.5Z" fill="#ff2000" fill-rule="evenodd"/>
<path d="M407 370.9L407 396.5L407 407.1L408.2 397.2L408.3 396.5Z" fill="#ff0000" fill-rule="evenodd"/>
<path d="M630.2 333.7L619.4 336.1L605.4 336.2L593.8 335.2L580.6 335.8L569.8 336L555.8 337.6L545.4 336.4L531 342.7L524.8 342.4L512.9 360.8L531 369.3L553.1 385.9L555.8 390.6L559.1 396.5L562.8 401L555.8 422.7L555.5 430.8L555.3 432.2L538.7 437.3L531 440.9L526.3 452.5L519.2 468L517.2 475.9L515.2 503.8L514.6 509.4L515.3 539.5M475 325L471.2 336.7L475.2 360.8L481.4 367.1L498.4 396.5L496.1 408.4L491.6 432.2L486.4 435.4L481.4 443.6L478.6 457L477.9 468L477 488.9L476.8 503.8L477 524.7L477 539.5M445.3 325L451 343.5L453.7 360.8L456.6 365.4L468.9 396.5L466.8 403.7L461.3 432.2L460 434.3L456.6 450.6L455.9 464.7L455.9 468L455.3 497.8L455.2 503.8L455.3 533.7L455.4 539.5M442 539.5L441.8 510.8L441.8 503.8L442.4 475.5L442.6 468L444.2 441.6L445.8 432.2L447.3 409.4L450.5 396.5L446.6 372.7L440.5 360.8L431.8 329.3L429.8 325M421.4 325L427.7 346.7L429 360.8L431.8 369.5L436.8 396.5L436 399.1L432.6 432.2L432.5 432.7L431.8 436.2L430.2 460.9L430.1 468L429.5 494.3L429.4 503.8L429.6 530.5L429.6 539.5M413 325L415.7 330.9L420.8 360.8L425 377.2L425.8 396.5L423.8 411.1L423 432.2L421.7 444.1L420.9 468L420.5 478.5L420.2 503.8L420.4 514L420.4 539.5M411.1 539.5L411.1 506.2L411.1 503.8L411.6 470.8L411.7 468L413.1 436.2L413.7 432.2L415.3 402.1L416.2 396.5L414.3 365.5L412.6 360.8L407 329.8" fill="none" stroke-linejoin="round" stroke="#000" stroke-opacity="0.38" stroke-width="0.5"/>
<rect x="631.5" y="325.00" width="17.1" height="214.50" fill="#ff0000"/>
<rect x="631.5" y="329.47" width="17.1" height="210.03" fill="#ff2000"/>
<rect x="631.5" y="333.94" width="17.1" height="205.56" fill="#ff3500"/>
<rect x="631.5" y="338.41" width="17.1" height="201.09" fill="#ff4a00"/>
<rect x="631.5" y="342.88" width="17.1" height="196.62" fill="#ff6000"/>
<rect x="631.5" y="347.34" width="17.1" height="192.16" fill="#ff7500"/>
<rect x="631.5" y="351.81" width="17.1" height="187.69" fill="#ff8a00"/>
<rect x="631.5" y="356.28" width="17.1" height="183.22" fill="#ff9f00"/>
<rect x="631.5" y="360.75" width="17.1" height="178.75" fill="#ffb500"/>
<rect x="631.5" y="365.22" width="17.1" height="174.28" fill="#ffca00"/>
<rect x="631.5" y="369.69" width="17.1" height="169.81" fill="#ffdf00"/>
<rect x="631.5" y="374.16" width="17.1" height="165.34" fill="#fff400"/>
<rect x="631.5" y="378.62" width="17.1" height="160.88" fill="#f4ff00"/>
<rect x="631.5" y="383.09" width="17.1" height="156.41" fill="#dfff00"/>
<rect x="631.5" y="387.56" width="17.1" height="151.94" fill="#caff00"/>
<rect x="631.5" y="392.03" width="17.1" height="147.47" fill="#b5ff00"/>
<rect x="631.5" y="396.50" width="17.1" height="143.00" fill="#9fff00"/>
<rect x="631.5" y="400.97" width="17.1" height="138.53" fill="#8aff00"/>
<rect x="631.5" y="405.44" width="17.1" height="134.06" fill="#75ff00"/>
<rect x="631.5" y="409.91" width="17.1" height="129.59" fill="#60ff00"/>
<rect x="631.5" y="414.38" width="17.1" height="125.12" fill="#4aff00"/>
<rect x="631.5" y="418.84" width="17.1" height="120.66" fill="#35ff00"/>
<rect x="631.5" y="423.31" width="17.1" height="116.19" fill="#20ff00"/>
<rect x="631.5" y="427.78" width="17.1" height="111.72" fill="#0bff00"/>
<rect x="631.5" y="432.25" width="17.1" height="107.25" fill="#00ff0b"/>
<rect x="631.5" y="436.72" width="17.1" height="102.78" fill="#00ff20"/>
<rect x="631.5" y="441.19" width="17.1" height="98.31" fill="#00ff35"/>
<rect x="631.5" y="445.66" width="17.1" height="93.84" fill="#00ff4a"/>
<rect x="631.5" y="450.12" width="17.1" height="89.38" fill="#00ff60"/>
<rect x="631.5" y="454.59" width="17.1" height="84.91" fill="#00ff75"/>
<rect x="631.5" y="459.06" width="17.1" height="80.44" fill="#00ff8a"/>
<rect x="631.5" y="463.53" width="17.1" height="75.97" fill="#00ff9f"/>
<rect x="631.5" y="468.00" width="17.1" height="71.50" fill="#00ffb5"/>
<rect x="631.5" y="472.47" width="17.1" height="67.03" fill="#00ffca"/>
<rect x="631.5" y="476.94" width="17.1" height="62.56" fill="#00ffdf"/>
<rect x="631.5" y="481.41" width="17.1" height="58.09" fill="#00fff4"/>
<rect x="631.5" y="485.88" width="17.1" height="53.62" fill="#00f4ff"/>
<rect x="631.5" y="490.34" width="17.1" height="49.16" fill="#00dfff"/>
<rect x="631.5" y="494.81" width="17.1" height="44.69" fill="#00caff"/>
<rect x="631.5" y="499.28" width="17.1" height="40.22" fill="#00b5ff"/>
<rect x="631.5" y="503.75" width="17.1" height="35.75" fill="#009fff"/>
<rect x="631.5" y="508.22" width="17.1" height="31.28" fill="#008aff"/>
<rect x="631.5" y="512.69" width="17.1" height="26.81" fill="#0075ff"/>
<rect x="631.5" y="517.16" width="17.1" height="22.34" fill="#0060ff"/>
<rect x="631.5" y="521.62" width="17.1" height="17.88" fill="#004aff"/>
<rect x="631.5" y="526.09" width="17.1" height="13.41" fill="#0035ff"/>
<rect x="631.5" y="530.56" width="17.1" height="8.94" fill="#0020ff"/>
<rect x="631.5" y="535.03" width="17.1" height="4.47" fill="#000bff"/>
<rect x="629.50" y="324.25" width="0.90" height="216.00" fill="#666"/>
<rect x="630.40" y="324.25" width="1.50" height="216.00" fill="#000"/>
<rect x="648.35" y="324.25" width="1.15" height="216.00" fill="#000"/>
<path d="M406.00 325.00H630.90M406.00 539.50H630.90M629.60 325.00H649.50M629.60 539.50H649.50M406.75 324.25V540.25M407.00 540.0v4M431.80 540.0v4M456.60 540.0v4M481.40 540.0v4M506.20 540.0v4M531.00 540.0v4M555.80 540.0v4M580.60 540.0v4M605.40 540.0v4M630.20 540.0v4M406.5 325.00h-3.4M406.5 360.75h-3.4M406.5 396.50h-3.4M406.5 432.25h-3.4M406.5 468.00h-3.4M406.5 503.75h-3.4M406.5 539.50h-3.4M649.3 325.00h3.2M649.3 351.81h3.2M649.3 378.62h3.2M649.3 405.44h3.2M649.3 432.25h3.2M649.3 459.06h3.2M649.3 485.88h3.2M649.3 512.69h3.2M649.3 539.50h3.2" stroke="#000" stroke-width="1.5" fill="none"/>
<text x="407.0" y="554.3" text-anchor="middle">0.1</text>
<text x="431.8" y="554.3" text-anchor="middle">0.2</text>
<text x="456.6" y="554.3" text-anchor="middle">0.3</text>
<text x="481.4" y="554.3" text-anchor="middle">0.4</text>
<text x="506.2" y="554.3" text-anchor="middle">0.5</text>
<text x="531.0" y="554.3" text-anchor="middle">0.6</text>
<text x="555.8" y="554.3" text-anchor="middle">0.7</text>
<text x="580.6" y="554.3" text-anchor="middle">0.8</text>
<text x="605.4" y="554.3" text-anchor="middle">0.9</text>
<text x="630.2" y="554.3" text-anchor="middle">1.0</text>
<text x="400.9" y="329.6" text-anchor="end" style="font-size:10.4px">10<tspan dx="-0.9" dy="-4.0" font-size="7.8">18</tspan></text>
<text x="400.9" y="365.4" text-anchor="end" style="font-size:10.4px">10<tspan dx="-0.9" dy="-4.0" font-size="7.8">17</tspan></text>
<text x="400.9" y="401.1" text-anchor="end" style="font-size:10.4px">10<tspan dx="-0.9" dy="-4.0" font-size="7.8">16</tspan></text>
<text x="400.9" y="436.9" text-anchor="end" style="font-size:10.4px">10<tspan dx="-0.9" dy="-4.0" font-size="7.8">15</tspan></text>
<text x="400.9" y="472.6" text-anchor="end" style="font-size:10.4px">10<tspan dx="-0.9" dy="-4.0" font-size="7.8">14</tspan></text>
<text x="400.9" y="508.4" text-anchor="end" style="font-size:10.4px">10<tspan dx="-0.9" dy="-4.0" font-size="7.8">13</tspan></text>
<text x="400.9" y="544.1" text-anchor="end" style="font-size:10.4px">10<tspan dx="-0.9" dy="-4.0" font-size="7.8">12</tspan></text>
<text x="656.8" y="328.5">85.11</text>
<text x="656.8" y="355.3">84.70</text>
<text x="656.8" y="382.2">84.30</text>
<text x="656.8" y="409.0">83.89</text>
<text x="656.8" y="435.9">83.49</text>
<text x="656.8" y="462.7">83.08</text>
<text x="656.8" y="489.5">82.67</text>
<text x="656.8" y="516.4">82.27</text>
<text x="656.8" y="543.2">81.86</text>
<text x="535.5" y="319.5" text-anchor="middle" style="font-size:11.5px">(d)</text>
<text x="640.3" y="317.3" text-anchor="middle" style="font-size:11.6px">FF (%)</text>
<text x="523.5" y="570.2" text-anchor="middle" style="font-size:11.5px">Thickness (µm)</text>
<text transform="translate(377.7,433.3) rotate(-90)" text-anchor="middle" style="font-size:11.6px">N<tspan dy="2.2" font-size="7.4">t</tspan><tspan dy="-2.2"> (cm</tspan><tspan dy="-4.2" font-size="7.4">-3</tspan><tspan dy="4.2">)</tspan></text>

</svg></body></html>
